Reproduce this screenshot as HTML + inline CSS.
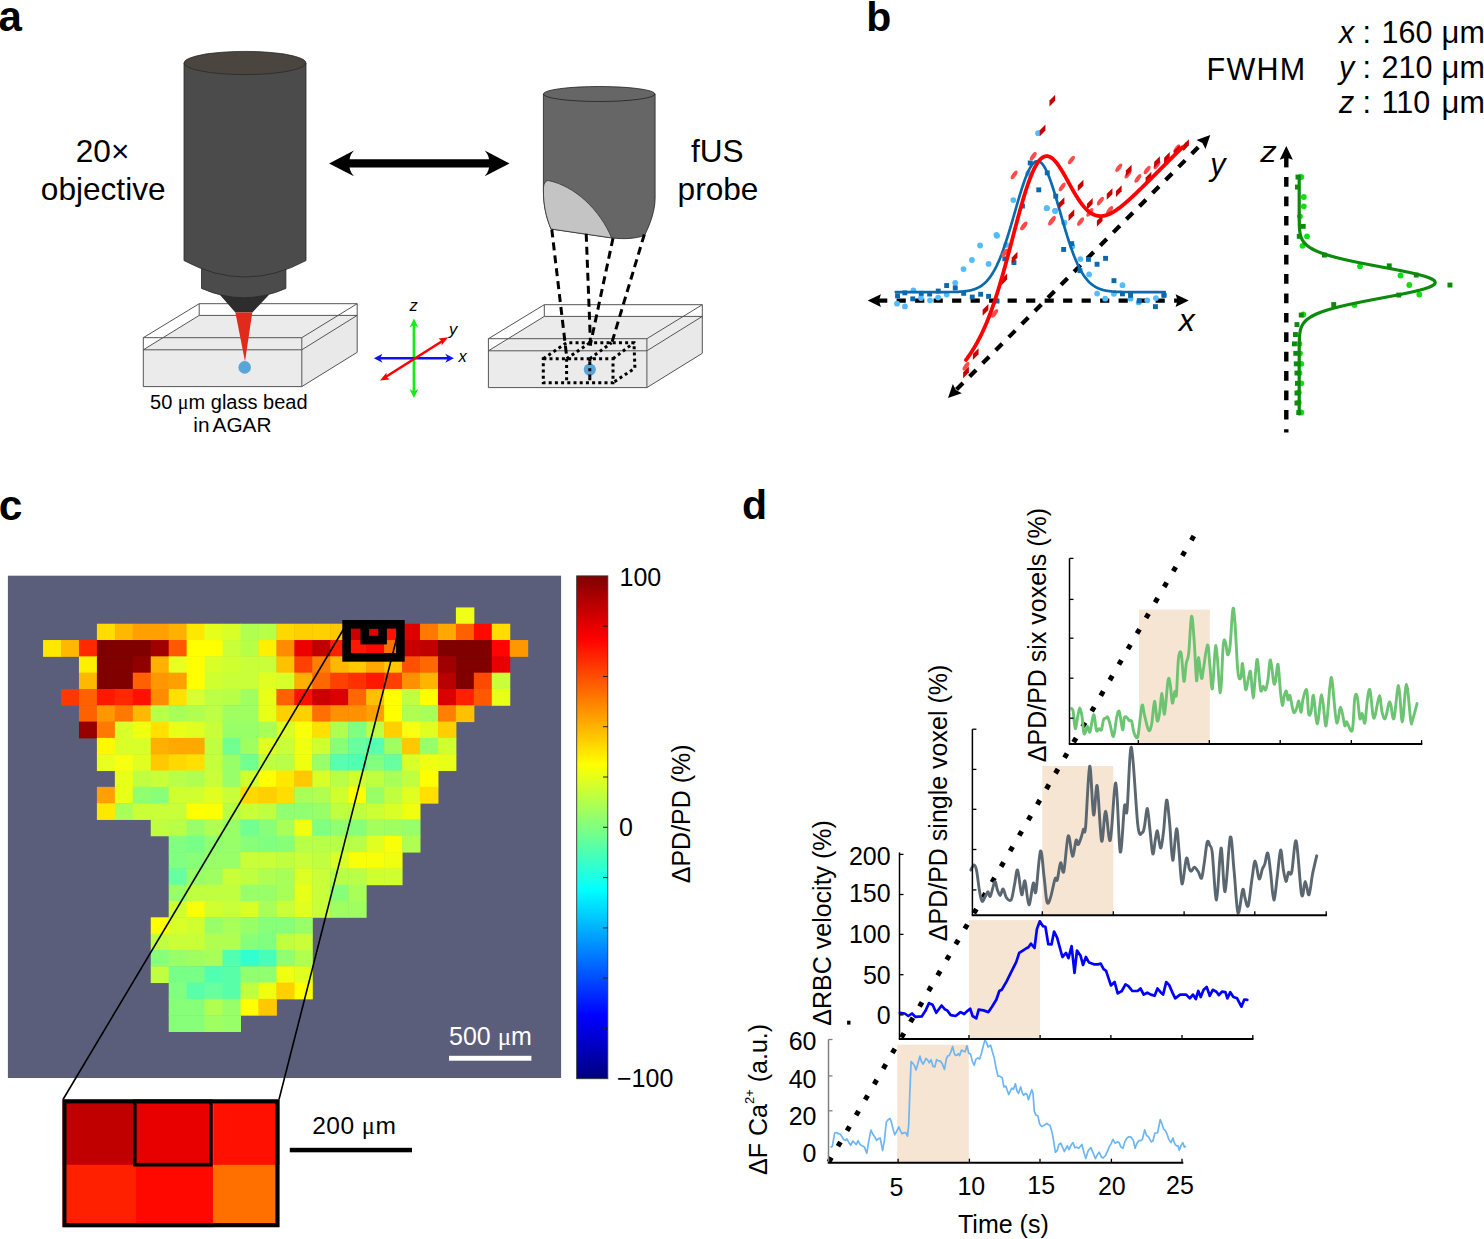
<!DOCTYPE html>
<html><head><meta charset="utf-8"><title>Figure</title>
<style>html,body{margin:0;padding:0;background:#fff;} svg{display:block;} text{font-family:"Liberation Sans", sans-serif;}</style>
</head><body>
<svg width="1484" height="1239" viewBox="0 0 1484 1239">
<rect width="1484" height="1239" fill="#fff"/>
<rect x="7.9" y="575.7" width="553.2" height="502.3" fill="#5b5e7b"/>
<rect x="455.90" y="607.42" width="18.45" height="16.81" fill="#f0ff18"/>
<rect x="96.90" y="623.73" width="18.45" height="16.81" fill="#ffdd00"/>
<rect x="114.85" y="623.73" width="18.45" height="16.81" fill="#ffb800"/>
<rect x="132.80" y="623.73" width="18.45" height="16.81" fill="#ffa000"/>
<rect x="150.75" y="623.73" width="18.45" height="16.81" fill="#ffa000"/>
<rect x="168.70" y="623.73" width="18.45" height="16.81" fill="#ffb000"/>
<rect x="186.65" y="623.73" width="18.45" height="16.81" fill="#ffe800"/>
<rect x="204.60" y="623.73" width="18.45" height="16.81" fill="#e4ff1c"/>
<rect x="222.55" y="623.73" width="18.45" height="16.81" fill="#d8ff28"/>
<rect x="240.50" y="623.73" width="18.45" height="16.81" fill="#b0ff50"/>
<rect x="258.45" y="623.73" width="18.45" height="16.81" fill="#b8ff48"/>
<rect x="276.40" y="623.73" width="18.45" height="16.81" fill="#ffd800"/>
<rect x="294.35" y="623.73" width="18.45" height="16.81" fill="#ffd000"/>
<rect x="312.30" y="623.73" width="18.45" height="16.81" fill="#ffd000"/>
<rect x="330.25" y="623.73" width="18.45" height="16.81" fill="#ffc800"/>
<rect x="348.20" y="623.73" width="18.45" height="16.81" fill="#c80000"/>
<rect x="366.15" y="623.73" width="18.45" height="16.81" fill="#e00000"/>
<rect x="384.10" y="623.73" width="18.45" height="16.81" fill="#ff1000"/>
<rect x="402.05" y="623.73" width="18.45" height="16.81" fill="#e00000"/>
<rect x="420.00" y="623.73" width="18.45" height="16.81" fill="#ff7800"/>
<rect x="437.95" y="623.73" width="18.45" height="16.81" fill="#ffa800"/>
<rect x="455.90" y="623.73" width="18.45" height="16.81" fill="#ff6000"/>
<rect x="473.85" y="623.73" width="18.45" height="16.81" fill="#ff0800"/>
<rect x="491.80" y="623.73" width="18.45" height="16.81" fill="#ffdd00"/>
<rect x="43.05" y="640.04" width="18.45" height="16.81" fill="#ffe800"/>
<rect x="61.00" y="640.04" width="18.45" height="16.81" fill="#ffb800"/>
<rect x="78.95" y="640.04" width="18.45" height="16.81" fill="#ff2800"/>
<rect x="96.90" y="640.04" width="18.45" height="16.81" fill="#800000"/>
<rect x="114.85" y="640.04" width="18.45" height="16.81" fill="#800000"/>
<rect x="132.80" y="640.04" width="18.45" height="16.81" fill="#800000"/>
<rect x="150.75" y="640.04" width="18.45" height="16.81" fill="#a00000"/>
<rect x="168.70" y="640.04" width="18.45" height="16.81" fill="#ff5800"/>
<rect x="186.65" y="640.04" width="18.45" height="16.81" fill="#ffff00"/>
<rect x="204.60" y="640.04" width="18.45" height="16.81" fill="#ffff00"/>
<rect x="222.55" y="640.04" width="18.45" height="16.81" fill="#c8ff38"/>
<rect x="240.50" y="640.04" width="18.45" height="16.81" fill="#b8ff48"/>
<rect x="258.45" y="640.04" width="18.45" height="16.81" fill="#fff000"/>
<rect x="276.40" y="640.04" width="18.45" height="16.81" fill="#ff8c00"/>
<rect x="294.35" y="640.04" width="18.45" height="16.81" fill="#ee0000"/>
<rect x="312.30" y="640.04" width="18.45" height="16.81" fill="#c00000"/>
<rect x="330.25" y="640.04" width="18.45" height="16.81" fill="#ff2000"/>
<rect x="348.20" y="640.04" width="18.45" height="16.81" fill="#ff1800"/>
<rect x="366.15" y="640.04" width="18.45" height="16.81" fill="#ff0800"/>
<rect x="384.10" y="640.04" width="18.45" height="16.81" fill="#ff7000"/>
<rect x="402.05" y="640.04" width="18.45" height="16.81" fill="#c80000"/>
<rect x="420.00" y="640.04" width="18.45" height="16.81" fill="#c00000"/>
<rect x="437.95" y="640.04" width="18.45" height="16.81" fill="#800000"/>
<rect x="455.90" y="640.04" width="18.45" height="16.81" fill="#800000"/>
<rect x="473.85" y="640.04" width="18.45" height="16.81" fill="#800000"/>
<rect x="491.80" y="640.04" width="18.45" height="16.81" fill="#ff0400"/>
<rect x="509.75" y="640.04" width="18.45" height="16.81" fill="#ff9800"/>
<rect x="78.95" y="656.35" width="18.45" height="16.81" fill="#fff000"/>
<rect x="96.90" y="656.35" width="18.45" height="16.81" fill="#800000"/>
<rect x="114.85" y="656.35" width="18.45" height="16.81" fill="#800000"/>
<rect x="132.80" y="656.35" width="18.45" height="16.81" fill="#900000"/>
<rect x="150.75" y="656.35" width="18.45" height="16.81" fill="#ffb000"/>
<rect x="168.70" y="656.35" width="18.45" height="16.81" fill="#e8ff20"/>
<rect x="186.65" y="656.35" width="18.45" height="16.81" fill="#ffff00"/>
<rect x="204.60" y="656.35" width="18.45" height="16.81" fill="#d8ff28"/>
<rect x="222.55" y="656.35" width="18.45" height="16.81" fill="#d0ff30"/>
<rect x="240.50" y="656.35" width="18.45" height="16.81" fill="#c8ff38"/>
<rect x="258.45" y="656.35" width="18.45" height="16.81" fill="#c8ff38"/>
<rect x="276.40" y="656.35" width="18.45" height="16.81" fill="#ffc000"/>
<rect x="294.35" y="656.35" width="18.45" height="16.81" fill="#ff4000"/>
<rect x="312.30" y="656.35" width="18.45" height="16.81" fill="#ff8000"/>
<rect x="330.25" y="656.35" width="18.45" height="16.81" fill="#ffb800"/>
<rect x="348.20" y="656.35" width="18.45" height="16.81" fill="#ffc800"/>
<rect x="366.15" y="656.35" width="18.45" height="16.81" fill="#ffa800"/>
<rect x="384.10" y="656.35" width="18.45" height="16.81" fill="#ffc800"/>
<rect x="402.05" y="656.35" width="18.45" height="16.81" fill="#ff5000"/>
<rect x="420.00" y="656.35" width="18.45" height="16.81" fill="#ff6800"/>
<rect x="437.95" y="656.35" width="18.45" height="16.81" fill="#a00000"/>
<rect x="455.90" y="656.35" width="18.45" height="16.81" fill="#800000"/>
<rect x="473.85" y="656.35" width="18.45" height="16.81" fill="#800000"/>
<rect x="491.80" y="656.35" width="18.45" height="16.81" fill="#e80000"/>
<rect x="78.95" y="672.66" width="18.45" height="16.81" fill="#ffb800"/>
<rect x="96.90" y="672.66" width="18.45" height="16.81" fill="#800000"/>
<rect x="114.85" y="672.66" width="18.45" height="16.81" fill="#800000"/>
<rect x="132.80" y="672.66" width="18.45" height="16.81" fill="#ff6000"/>
<rect x="150.75" y="672.66" width="18.45" height="16.81" fill="#ff9800"/>
<rect x="168.70" y="672.66" width="18.45" height="16.81" fill="#ffa000"/>
<rect x="186.65" y="672.66" width="18.45" height="16.81" fill="#ffff00"/>
<rect x="204.60" y="672.66" width="18.45" height="16.81" fill="#d0ff30"/>
<rect x="222.55" y="672.66" width="18.45" height="16.81" fill="#c8ff38"/>
<rect x="240.50" y="672.66" width="18.45" height="16.81" fill="#c8ff38"/>
<rect x="258.45" y="672.66" width="18.45" height="16.81" fill="#e0ff20"/>
<rect x="276.40" y="672.66" width="18.45" height="16.81" fill="#d8ff28"/>
<rect x="294.35" y="672.66" width="18.45" height="16.81" fill="#ffb000"/>
<rect x="312.30" y="672.66" width="18.45" height="16.81" fill="#ff6800"/>
<rect x="330.25" y="672.66" width="18.45" height="16.81" fill="#ff4000"/>
<rect x="348.20" y="672.66" width="18.45" height="16.81" fill="#ff3000"/>
<rect x="366.15" y="672.66" width="18.45" height="16.81" fill="#ff1800"/>
<rect x="384.10" y="672.66" width="18.45" height="16.81" fill="#ff4000"/>
<rect x="402.05" y="672.66" width="18.45" height="16.81" fill="#ff9000"/>
<rect x="420.00" y="672.66" width="18.45" height="16.81" fill="#ffb400"/>
<rect x="437.95" y="672.66" width="18.45" height="16.81" fill="#b80000"/>
<rect x="455.90" y="672.66" width="18.45" height="16.81" fill="#800000"/>
<rect x="473.85" y="672.66" width="18.45" height="16.81" fill="#ff4800"/>
<rect x="491.80" y="672.66" width="18.45" height="16.81" fill="#c8ff38"/>
<rect x="61.00" y="688.97" width="18.45" height="16.81" fill="#ff3800"/>
<rect x="78.95" y="688.97" width="18.45" height="16.81" fill="#ff6000"/>
<rect x="96.90" y="688.97" width="18.45" height="16.81" fill="#ff1800"/>
<rect x="114.85" y="688.97" width="18.45" height="16.81" fill="#ff2800"/>
<rect x="132.80" y="688.97" width="18.45" height="16.81" fill="#ff1000"/>
<rect x="150.75" y="688.97" width="18.45" height="16.81" fill="#ff8c00"/>
<rect x="168.70" y="688.97" width="18.45" height="16.81" fill="#ffe000"/>
<rect x="186.65" y="688.97" width="18.45" height="16.81" fill="#d8ff30"/>
<rect x="204.60" y="688.97" width="18.45" height="16.81" fill="#bcff44"/>
<rect x="222.55" y="688.97" width="18.45" height="16.81" fill="#b8ff48"/>
<rect x="240.50" y="688.97" width="18.45" height="16.81" fill="#a0ff60"/>
<rect x="258.45" y="688.97" width="18.45" height="16.81" fill="#e8ff18"/>
<rect x="276.40" y="688.97" width="18.45" height="16.81" fill="#ff6000"/>
<rect x="294.35" y="688.97" width="18.45" height="16.81" fill="#ff1000"/>
<rect x="312.30" y="688.97" width="18.45" height="16.81" fill="#cc0000"/>
<rect x="330.25" y="688.97" width="18.45" height="16.81" fill="#dd0000"/>
<rect x="348.20" y="688.97" width="18.45" height="16.81" fill="#ff6800"/>
<rect x="366.15" y="688.97" width="18.45" height="16.81" fill="#ffc000"/>
<rect x="384.10" y="688.97" width="18.45" height="16.81" fill="#ffff00"/>
<rect x="402.05" y="688.97" width="18.45" height="16.81" fill="#c0ff40"/>
<rect x="420.00" y="688.97" width="18.45" height="16.81" fill="#ffff00"/>
<rect x="437.95" y="688.97" width="18.45" height="16.81" fill="#d80000"/>
<rect x="455.90" y="688.97" width="18.45" height="16.81" fill="#ff2000"/>
<rect x="473.85" y="688.97" width="18.45" height="16.81" fill="#ff5800"/>
<rect x="491.80" y="688.97" width="18.45" height="16.81" fill="#e8ff18"/>
<rect x="78.95" y="705.28" width="18.45" height="16.81" fill="#ff6000"/>
<rect x="96.90" y="705.28" width="18.45" height="16.81" fill="#ff9800"/>
<rect x="114.85" y="705.28" width="18.45" height="16.81" fill="#ff7800"/>
<rect x="132.80" y="705.28" width="18.45" height="16.81" fill="#ffb800"/>
<rect x="150.75" y="705.28" width="18.45" height="16.81" fill="#b8ff48"/>
<rect x="168.70" y="705.28" width="18.45" height="16.81" fill="#a8ff58"/>
<rect x="186.65" y="705.28" width="18.45" height="16.81" fill="#b0ff50"/>
<rect x="204.60" y="705.28" width="18.45" height="16.81" fill="#bcff44"/>
<rect x="222.55" y="705.28" width="18.45" height="16.81" fill="#a0ff60"/>
<rect x="240.50" y="705.28" width="18.45" height="16.81" fill="#a0ff60"/>
<rect x="258.45" y="705.28" width="18.45" height="16.81" fill="#e8ff18"/>
<rect x="276.40" y="705.28" width="18.45" height="16.81" fill="#ffd000"/>
<rect x="294.35" y="705.28" width="18.45" height="16.81" fill="#ffd000"/>
<rect x="312.30" y="705.28" width="18.45" height="16.81" fill="#ff7000"/>
<rect x="330.25" y="705.28" width="18.45" height="16.81" fill="#ff9000"/>
<rect x="348.20" y="705.28" width="18.45" height="16.81" fill="#ff9000"/>
<rect x="366.15" y="705.28" width="18.45" height="16.81" fill="#ffa000"/>
<rect x="384.10" y="705.28" width="18.45" height="16.81" fill="#ffff00"/>
<rect x="402.05" y="705.28" width="18.45" height="16.81" fill="#b0ff50"/>
<rect x="420.00" y="705.28" width="18.45" height="16.81" fill="#a8ff58"/>
<rect x="437.95" y="705.28" width="18.45" height="16.81" fill="#ff8000"/>
<rect x="455.90" y="705.28" width="18.45" height="16.81" fill="#ffc000"/>
<rect x="78.95" y="721.59" width="18.45" height="16.81" fill="#980000"/>
<rect x="96.90" y="721.59" width="18.45" height="16.81" fill="#ff7800"/>
<rect x="114.85" y="721.59" width="18.45" height="16.81" fill="#d8ff28"/>
<rect x="132.80" y="721.59" width="18.45" height="16.81" fill="#f0ff10"/>
<rect x="150.75" y="721.59" width="18.45" height="16.81" fill="#ffe000"/>
<rect x="168.70" y="721.59" width="18.45" height="16.81" fill="#e8ff18"/>
<rect x="186.65" y="721.59" width="18.45" height="16.81" fill="#e0ff20"/>
<rect x="204.60" y="721.59" width="18.45" height="16.81" fill="#c8ff38"/>
<rect x="222.55" y="721.59" width="18.45" height="16.81" fill="#98ff68"/>
<rect x="240.50" y="721.59" width="18.45" height="16.81" fill="#98ff68"/>
<rect x="258.45" y="721.59" width="18.45" height="16.81" fill="#a8ff58"/>
<rect x="276.40" y="721.59" width="18.45" height="16.81" fill="#d8ff28"/>
<rect x="294.35" y="721.59" width="18.45" height="16.81" fill="#f8ff08"/>
<rect x="312.30" y="721.59" width="18.45" height="16.81" fill="#ffe000"/>
<rect x="330.25" y="721.59" width="18.45" height="16.81" fill="#b0ff50"/>
<rect x="348.20" y="721.59" width="18.45" height="16.81" fill="#80ff80"/>
<rect x="366.15" y="721.59" width="18.45" height="16.81" fill="#bcff44"/>
<rect x="384.10" y="721.59" width="18.45" height="16.81" fill="#ffd000"/>
<rect x="402.05" y="721.59" width="18.45" height="16.81" fill="#f8ff10"/>
<rect x="420.00" y="721.59" width="18.45" height="16.81" fill="#e0ff20"/>
<rect x="437.95" y="721.59" width="18.45" height="16.81" fill="#ffd000"/>
<rect x="96.90" y="737.90" width="18.45" height="16.81" fill="#fff800"/>
<rect x="114.85" y="737.90" width="18.45" height="16.81" fill="#d8ff28"/>
<rect x="132.80" y="737.90" width="18.45" height="16.81" fill="#d8ff28"/>
<rect x="150.75" y="737.90" width="18.45" height="16.81" fill="#ffb000"/>
<rect x="168.70" y="737.90" width="18.45" height="16.81" fill="#ffa800"/>
<rect x="186.65" y="737.90" width="18.45" height="16.81" fill="#ffa800"/>
<rect x="204.60" y="737.90" width="18.45" height="16.81" fill="#c0ff40"/>
<rect x="222.55" y="737.90" width="18.45" height="16.81" fill="#70ff90"/>
<rect x="240.50" y="737.90" width="18.45" height="16.81" fill="#a0ff60"/>
<rect x="258.45" y="737.90" width="18.45" height="16.81" fill="#e0ff20"/>
<rect x="276.40" y="737.90" width="18.45" height="16.81" fill="#c8ff38"/>
<rect x="294.35" y="737.90" width="18.45" height="16.81" fill="#f0ff10"/>
<rect x="312.30" y="737.90" width="18.45" height="16.81" fill="#d0ff30"/>
<rect x="330.25" y="737.90" width="18.45" height="16.81" fill="#88ff78"/>
<rect x="348.20" y="737.90" width="18.45" height="16.81" fill="#68ffa0"/>
<rect x="366.15" y="737.90" width="18.45" height="16.81" fill="#58ffb0"/>
<rect x="384.10" y="737.90" width="18.45" height="16.81" fill="#a0ff60"/>
<rect x="402.05" y="737.90" width="18.45" height="16.81" fill="#ffc800"/>
<rect x="420.00" y="737.90" width="18.45" height="16.81" fill="#98ff68"/>
<rect x="437.95" y="737.90" width="18.45" height="16.81" fill="#d0ff30"/>
<rect x="96.90" y="754.21" width="18.45" height="16.81" fill="#e8ff20"/>
<rect x="114.85" y="754.21" width="18.45" height="16.81" fill="#f8ff10"/>
<rect x="132.80" y="754.21" width="18.45" height="16.81" fill="#e0ff20"/>
<rect x="150.75" y="754.21" width="18.45" height="16.81" fill="#ffc800"/>
<rect x="168.70" y="754.21" width="18.45" height="16.81" fill="#ffd800"/>
<rect x="186.65" y="754.21" width="18.45" height="16.81" fill="#ffe000"/>
<rect x="204.60" y="754.21" width="18.45" height="16.81" fill="#c4ff3c"/>
<rect x="222.55" y="754.21" width="18.45" height="16.81" fill="#98ff68"/>
<rect x="240.50" y="754.21" width="18.45" height="16.81" fill="#70ff90"/>
<rect x="258.45" y="754.21" width="18.45" height="16.81" fill="#c0ff40"/>
<rect x="276.40" y="754.21" width="18.45" height="16.81" fill="#b8ff48"/>
<rect x="294.35" y="754.21" width="18.45" height="16.81" fill="#f0ff10"/>
<rect x="312.30" y="754.21" width="18.45" height="16.81" fill="#98ff68"/>
<rect x="330.25" y="754.21" width="18.45" height="16.81" fill="#58ffb0"/>
<rect x="348.20" y="754.21" width="18.45" height="16.81" fill="#50ffb0"/>
<rect x="366.15" y="754.21" width="18.45" height="16.81" fill="#80ff80"/>
<rect x="384.10" y="754.21" width="18.45" height="16.81" fill="#68ffa0"/>
<rect x="402.05" y="754.21" width="18.45" height="16.81" fill="#d8ff28"/>
<rect x="420.00" y="754.21" width="18.45" height="16.81" fill="#f0ff10"/>
<rect x="437.95" y="754.21" width="18.45" height="16.81" fill="#e8ff18"/>
<rect x="114.85" y="770.52" width="18.45" height="16.81" fill="#e8ff18"/>
<rect x="132.80" y="770.52" width="18.45" height="16.81" fill="#c0ff40"/>
<rect x="150.75" y="770.52" width="18.45" height="16.81" fill="#c8ff38"/>
<rect x="168.70" y="770.52" width="18.45" height="16.81" fill="#b8ff48"/>
<rect x="186.65" y="770.52" width="18.45" height="16.81" fill="#b0ff50"/>
<rect x="204.60" y="770.52" width="18.45" height="16.81" fill="#c8ff38"/>
<rect x="222.55" y="770.52" width="18.45" height="16.81" fill="#98ff68"/>
<rect x="240.50" y="770.52" width="18.45" height="16.81" fill="#d0ff30"/>
<rect x="258.45" y="770.52" width="18.45" height="16.81" fill="#ffff00"/>
<rect x="276.40" y="770.52" width="18.45" height="16.81" fill="#ffe800"/>
<rect x="294.35" y="770.52" width="18.45" height="16.81" fill="#ffc800"/>
<rect x="312.30" y="770.52" width="18.45" height="16.81" fill="#d8ff28"/>
<rect x="330.25" y="770.52" width="18.45" height="16.81" fill="#b8ff48"/>
<rect x="348.20" y="770.52" width="18.45" height="16.81" fill="#d0ff30"/>
<rect x="366.15" y="770.52" width="18.45" height="16.81" fill="#c0ff40"/>
<rect x="384.10" y="770.52" width="18.45" height="16.81" fill="#a8ff58"/>
<rect x="402.05" y="770.52" width="18.45" height="16.81" fill="#c0ff40"/>
<rect x="420.00" y="770.52" width="18.45" height="16.81" fill="#ffff00"/>
<rect x="96.90" y="786.83" width="18.45" height="16.81" fill="#ffa000"/>
<rect x="114.85" y="786.83" width="18.45" height="16.81" fill="#e8ff18"/>
<rect x="132.80" y="786.83" width="18.45" height="16.81" fill="#90ff70"/>
<rect x="150.75" y="786.83" width="18.45" height="16.81" fill="#88ff78"/>
<rect x="168.70" y="786.83" width="18.45" height="16.81" fill="#d0ff30"/>
<rect x="186.65" y="786.83" width="18.45" height="16.81" fill="#d0ff30"/>
<rect x="204.60" y="786.83" width="18.45" height="16.81" fill="#e0ff20"/>
<rect x="222.55" y="786.83" width="18.45" height="16.81" fill="#c8ff38"/>
<rect x="240.50" y="786.83" width="18.45" height="16.81" fill="#ffd800"/>
<rect x="258.45" y="786.83" width="18.45" height="16.81" fill="#ffd000"/>
<rect x="276.40" y="786.83" width="18.45" height="16.81" fill="#ffdd00"/>
<rect x="294.35" y="786.83" width="18.45" height="16.81" fill="#a8ff58"/>
<rect x="312.30" y="786.83" width="18.45" height="16.81" fill="#b0ff50"/>
<rect x="330.25" y="786.83" width="18.45" height="16.81" fill="#d0ff30"/>
<rect x="348.20" y="786.83" width="18.45" height="16.81" fill="#ffff00"/>
<rect x="366.15" y="786.83" width="18.45" height="16.81" fill="#98ff68"/>
<rect x="384.10" y="786.83" width="18.45" height="16.81" fill="#c0ff40"/>
<rect x="402.05" y="786.83" width="18.45" height="16.81" fill="#e0ff20"/>
<rect x="420.00" y="786.83" width="18.45" height="16.81" fill="#ffe000"/>
<rect x="96.90" y="803.14" width="18.45" height="16.81" fill="#ffe800"/>
<rect x="114.85" y="803.14" width="18.45" height="16.81" fill="#a8ff58"/>
<rect x="132.80" y="803.14" width="18.45" height="16.81" fill="#c8ff38"/>
<rect x="150.75" y="803.14" width="18.45" height="16.81" fill="#c8ff38"/>
<rect x="168.70" y="803.14" width="18.45" height="16.81" fill="#c8ff38"/>
<rect x="186.65" y="803.14" width="18.45" height="16.81" fill="#ffff00"/>
<rect x="204.60" y="803.14" width="18.45" height="16.81" fill="#fcff04"/>
<rect x="222.55" y="803.14" width="18.45" height="16.81" fill="#b8ff48"/>
<rect x="240.50" y="803.14" width="18.45" height="16.81" fill="#c8ff38"/>
<rect x="258.45" y="803.14" width="18.45" height="16.81" fill="#c0ff40"/>
<rect x="276.40" y="803.14" width="18.45" height="16.81" fill="#90ff70"/>
<rect x="294.35" y="803.14" width="18.45" height="16.81" fill="#90ff70"/>
<rect x="312.30" y="803.14" width="18.45" height="16.81" fill="#98ff68"/>
<rect x="330.25" y="803.14" width="18.45" height="16.81" fill="#c0ff40"/>
<rect x="348.20" y="803.14" width="18.45" height="16.81" fill="#c0ff40"/>
<rect x="366.15" y="803.14" width="18.45" height="16.81" fill="#ccff34"/>
<rect x="384.10" y="803.14" width="18.45" height="16.81" fill="#d8ff28"/>
<rect x="402.05" y="803.14" width="18.45" height="16.81" fill="#f0ff10"/>
<rect x="150.75" y="819.45" width="18.45" height="16.81" fill="#c0ff40"/>
<rect x="168.70" y="819.45" width="18.45" height="16.81" fill="#b8ff48"/>
<rect x="186.65" y="819.45" width="18.45" height="16.81" fill="#98ff68"/>
<rect x="204.60" y="819.45" width="18.45" height="16.81" fill="#b0ff50"/>
<rect x="222.55" y="819.45" width="18.45" height="16.81" fill="#98ff68"/>
<rect x="240.50" y="819.45" width="18.45" height="16.81" fill="#70ff90"/>
<rect x="258.45" y="819.45" width="18.45" height="16.81" fill="#88ff78"/>
<rect x="276.40" y="819.45" width="18.45" height="16.81" fill="#a8ff58"/>
<rect x="294.35" y="819.45" width="18.45" height="16.81" fill="#f0ff10"/>
<rect x="312.30" y="819.45" width="18.45" height="16.81" fill="#80ff80"/>
<rect x="330.25" y="819.45" width="18.45" height="16.81" fill="#90ff70"/>
<rect x="348.20" y="819.45" width="18.45" height="16.81" fill="#88ff78"/>
<rect x="366.15" y="819.45" width="18.45" height="16.81" fill="#a4ff5c"/>
<rect x="384.10" y="819.45" width="18.45" height="16.81" fill="#a0ff60"/>
<rect x="402.05" y="819.45" width="18.45" height="16.81" fill="#98ff68"/>
<rect x="168.70" y="835.76" width="18.45" height="16.81" fill="#80ff80"/>
<rect x="186.65" y="835.76" width="18.45" height="16.81" fill="#78ff88"/>
<rect x="204.60" y="835.76" width="18.45" height="16.81" fill="#90ff70"/>
<rect x="222.55" y="835.76" width="18.45" height="16.81" fill="#98ff68"/>
<rect x="240.50" y="835.76" width="18.45" height="16.81" fill="#88ff78"/>
<rect x="258.45" y="835.76" width="18.45" height="16.81" fill="#80ff80"/>
<rect x="276.40" y="835.76" width="18.45" height="16.81" fill="#88ff78"/>
<rect x="294.35" y="835.76" width="18.45" height="16.81" fill="#b8ff48"/>
<rect x="312.30" y="835.76" width="18.45" height="16.81" fill="#b8ff48"/>
<rect x="330.25" y="835.76" width="18.45" height="16.81" fill="#b8ff48"/>
<rect x="348.20" y="835.76" width="18.45" height="16.81" fill="#b8ff48"/>
<rect x="366.15" y="835.76" width="18.45" height="16.81" fill="#e0ff20"/>
<rect x="384.10" y="835.76" width="18.45" height="16.81" fill="#f8ff08"/>
<rect x="402.05" y="835.76" width="18.45" height="16.81" fill="#b0ff50"/>
<rect x="168.70" y="852.07" width="18.45" height="16.81" fill="#80ff80"/>
<rect x="186.65" y="852.07" width="18.45" height="16.81" fill="#88ff78"/>
<rect x="204.60" y="852.07" width="18.45" height="16.81" fill="#98ff68"/>
<rect x="222.55" y="852.07" width="18.45" height="16.81" fill="#98ff68"/>
<rect x="240.50" y="852.07" width="18.45" height="16.81" fill="#c8ff38"/>
<rect x="258.45" y="852.07" width="18.45" height="16.81" fill="#c8ff38"/>
<rect x="276.40" y="852.07" width="18.45" height="16.81" fill="#c0ff40"/>
<rect x="294.35" y="852.07" width="18.45" height="16.81" fill="#c8ff38"/>
<rect x="312.30" y="852.07" width="18.45" height="16.81" fill="#c0ff40"/>
<rect x="330.25" y="852.07" width="18.45" height="16.81" fill="#d8ff28"/>
<rect x="348.20" y="852.07" width="18.45" height="16.81" fill="#f8ff08"/>
<rect x="366.15" y="852.07" width="18.45" height="16.81" fill="#f8ff08"/>
<rect x="384.10" y="852.07" width="18.45" height="16.81" fill="#f0ff10"/>
<rect x="168.70" y="868.38" width="18.45" height="16.81" fill="#68ffa0"/>
<rect x="186.65" y="868.38" width="18.45" height="16.81" fill="#98ff68"/>
<rect x="204.60" y="868.38" width="18.45" height="16.81" fill="#a0ff60"/>
<rect x="222.55" y="868.38" width="18.45" height="16.81" fill="#c8ff38"/>
<rect x="240.50" y="868.38" width="18.45" height="16.81" fill="#c0ff40"/>
<rect x="258.45" y="868.38" width="18.45" height="16.81" fill="#b0ff50"/>
<rect x="276.40" y="868.38" width="18.45" height="16.81" fill="#a8ff58"/>
<rect x="294.35" y="868.38" width="18.45" height="16.81" fill="#dcff24"/>
<rect x="312.30" y="868.38" width="18.45" height="16.81" fill="#c8ff38"/>
<rect x="330.25" y="868.38" width="18.45" height="16.81" fill="#b8ff48"/>
<rect x="348.20" y="868.38" width="18.45" height="16.81" fill="#b8ff48"/>
<rect x="366.15" y="868.38" width="18.45" height="16.81" fill="#d0ff30"/>
<rect x="384.10" y="868.38" width="18.45" height="16.81" fill="#d0ff30"/>
<rect x="168.70" y="884.69" width="18.45" height="16.81" fill="#98ff68"/>
<rect x="186.65" y="884.69" width="18.45" height="16.81" fill="#c0ff40"/>
<rect x="204.60" y="884.69" width="18.45" height="16.81" fill="#c0ff40"/>
<rect x="222.55" y="884.69" width="18.45" height="16.81" fill="#c0ff40"/>
<rect x="240.50" y="884.69" width="18.45" height="16.81" fill="#98ff68"/>
<rect x="258.45" y="884.69" width="18.45" height="16.81" fill="#98ff68"/>
<rect x="276.40" y="884.69" width="18.45" height="16.81" fill="#a8ff58"/>
<rect x="294.35" y="884.69" width="18.45" height="16.81" fill="#e8ff18"/>
<rect x="312.30" y="884.69" width="18.45" height="16.81" fill="#c8ff38"/>
<rect x="330.25" y="884.69" width="18.45" height="16.81" fill="#88ff78"/>
<rect x="348.20" y="884.69" width="18.45" height="16.81" fill="#a8ff58"/>
<rect x="168.70" y="901.00" width="18.45" height="16.81" fill="#d0ff30"/>
<rect x="186.65" y="901.00" width="18.45" height="16.81" fill="#f8ff08"/>
<rect x="204.60" y="901.00" width="18.45" height="16.81" fill="#d0ff30"/>
<rect x="222.55" y="901.00" width="18.45" height="16.81" fill="#c8ff38"/>
<rect x="240.50" y="901.00" width="18.45" height="16.81" fill="#d8ff28"/>
<rect x="258.45" y="901.00" width="18.45" height="16.81" fill="#a8ff58"/>
<rect x="276.40" y="901.00" width="18.45" height="16.81" fill="#c8ff38"/>
<rect x="294.35" y="901.00" width="18.45" height="16.81" fill="#e0ff20"/>
<rect x="312.30" y="901.00" width="18.45" height="16.81" fill="#c8ff38"/>
<rect x="330.25" y="901.00" width="18.45" height="16.81" fill="#a0ff60"/>
<rect x="348.20" y="901.00" width="18.45" height="16.81" fill="#a0ff60"/>
<rect x="150.75" y="917.31" width="18.45" height="16.81" fill="#ffff00"/>
<rect x="168.70" y="917.31" width="18.45" height="16.81" fill="#d8ff28"/>
<rect x="186.65" y="917.31" width="18.45" height="16.81" fill="#d0ff30"/>
<rect x="204.60" y="917.31" width="18.45" height="16.81" fill="#98ff68"/>
<rect x="222.55" y="917.31" width="18.45" height="16.81" fill="#a8ff58"/>
<rect x="240.50" y="917.31" width="18.45" height="16.81" fill="#98ff68"/>
<rect x="258.45" y="917.31" width="18.45" height="16.81" fill="#88ff78"/>
<rect x="276.40" y="917.31" width="18.45" height="16.81" fill="#88ff78"/>
<rect x="294.35" y="917.31" width="18.45" height="16.81" fill="#98ff68"/>
<rect x="150.75" y="933.62" width="18.45" height="16.81" fill="#c0ff40"/>
<rect x="168.70" y="933.62" width="18.45" height="16.81" fill="#c8ff38"/>
<rect x="186.65" y="933.62" width="18.45" height="16.81" fill="#c8ff38"/>
<rect x="204.60" y="933.62" width="18.45" height="16.81" fill="#b0ff50"/>
<rect x="222.55" y="933.62" width="18.45" height="16.81" fill="#b0ff50"/>
<rect x="240.50" y="933.62" width="18.45" height="16.81" fill="#88ff78"/>
<rect x="258.45" y="933.62" width="18.45" height="16.81" fill="#80ff80"/>
<rect x="276.40" y="933.62" width="18.45" height="16.81" fill="#c0ff40"/>
<rect x="294.35" y="933.62" width="18.45" height="16.81" fill="#c8ff38"/>
<rect x="150.75" y="949.93" width="18.45" height="16.81" fill="#88ff78"/>
<rect x="168.70" y="949.93" width="18.45" height="16.81" fill="#98ff68"/>
<rect x="186.65" y="949.93" width="18.45" height="16.81" fill="#a0ff60"/>
<rect x="204.60" y="949.93" width="18.45" height="16.81" fill="#a8ff58"/>
<rect x="222.55" y="949.93" width="18.45" height="16.81" fill="#50ffb0"/>
<rect x="240.50" y="949.93" width="18.45" height="16.81" fill="#30ffd0"/>
<rect x="258.45" y="949.93" width="18.45" height="16.81" fill="#48ffb8"/>
<rect x="276.40" y="949.93" width="18.45" height="16.81" fill="#90ff70"/>
<rect x="294.35" y="949.93" width="18.45" height="16.81" fill="#b0ff50"/>
<rect x="150.75" y="966.24" width="18.45" height="16.81" fill="#c0ff40"/>
<rect x="168.70" y="966.24" width="18.45" height="16.81" fill="#78ff88"/>
<rect x="186.65" y="966.24" width="18.45" height="16.81" fill="#78ff88"/>
<rect x="204.60" y="966.24" width="18.45" height="16.81" fill="#50ffb0"/>
<rect x="222.55" y="966.24" width="18.45" height="16.81" fill="#58ffa8"/>
<rect x="240.50" y="966.24" width="18.45" height="16.81" fill="#90ff70"/>
<rect x="258.45" y="966.24" width="18.45" height="16.81" fill="#90ff70"/>
<rect x="276.40" y="966.24" width="18.45" height="16.81" fill="#f0ff10"/>
<rect x="294.35" y="966.24" width="18.45" height="16.81" fill="#e0ff20"/>
<rect x="168.70" y="982.55" width="18.45" height="16.81" fill="#80ff80"/>
<rect x="186.65" y="982.55" width="18.45" height="16.81" fill="#58ffa8"/>
<rect x="204.60" y="982.55" width="18.45" height="16.81" fill="#68ffa0"/>
<rect x="222.55" y="982.55" width="18.45" height="16.81" fill="#58ffa8"/>
<rect x="240.50" y="982.55" width="18.45" height="16.81" fill="#c0ff40"/>
<rect x="258.45" y="982.55" width="18.45" height="16.81" fill="#f0ff10"/>
<rect x="276.40" y="982.55" width="18.45" height="16.81" fill="#ffd000"/>
<rect x="294.35" y="982.55" width="18.45" height="16.81" fill="#ffff00"/>
<rect x="168.70" y="998.86" width="18.45" height="16.81" fill="#88ff78"/>
<rect x="186.65" y="998.86" width="18.45" height="16.81" fill="#88ff78"/>
<rect x="204.60" y="998.86" width="18.45" height="16.81" fill="#b0ff50"/>
<rect x="222.55" y="998.86" width="18.45" height="16.81" fill="#98ff68"/>
<rect x="240.50" y="998.86" width="18.45" height="16.81" fill="#ffff00"/>
<rect x="258.45" y="998.86" width="18.45" height="16.81" fill="#ffc800"/>
<rect x="168.70" y="1015.17" width="18.45" height="16.81" fill="#88ff78"/>
<rect x="186.65" y="1015.17" width="18.45" height="16.81" fill="#88ff78"/>
<rect x="204.60" y="1015.17" width="18.45" height="16.81" fill="#a0ff60"/>
<rect x="222.55" y="1015.17" width="18.45" height="16.81" fill="#98ff68"/>
<line x1="345.4" y1="626" x2="63" y2="1099.5" stroke="#000" stroke-width="1.6"/>
<line x1="399.8" y1="626" x2="279" y2="1099.5" stroke="#000" stroke-width="1.6"/>
<rect x="346.6" y="624.3" width="53.8" height="33.1" fill="none" stroke="#000" stroke-width="8.6"/>
<rect x="364.8" y="624.4" width="17.8" height="15.7" fill="none" stroke="#000" stroke-width="8.6"/>
<rect x="449" y="1055.8" width="82.4" height="4.9" fill="#fff"/>
<text x="449" y="1044.9" font-family="Liberation Sans, sans-serif" font-size="25" fill="#fff">500 <tspan font-family="Liberation Serif, serif">μ</tspan>m</text>
<defs><linearGradient id="cb" x1="0" y1="0" x2="0" y2="1"><stop offset="0.0000" stop-color="#800000"/><stop offset="0.0156" stop-color="#8f0000"/><stop offset="0.0312" stop-color="#9f0000"/><stop offset="0.0469" stop-color="#af0000"/><stop offset="0.0625" stop-color="#bf0000"/><stop offset="0.0781" stop-color="#cf0000"/><stop offset="0.0938" stop-color="#df0000"/><stop offset="0.1094" stop-color="#ef0000"/><stop offset="0.1250" stop-color="#ff0000"/><stop offset="0.1406" stop-color="#ff1000"/><stop offset="0.1562" stop-color="#ff2000"/><stop offset="0.1719" stop-color="#ff3000"/><stop offset="0.1875" stop-color="#ff4000"/><stop offset="0.2031" stop-color="#ff5000"/><stop offset="0.2188" stop-color="#ff6000"/><stop offset="0.2344" stop-color="#ff7000"/><stop offset="0.2500" stop-color="#ff8000"/><stop offset="0.2656" stop-color="#ff8f00"/><stop offset="0.2812" stop-color="#ff9f00"/><stop offset="0.2969" stop-color="#ffaf00"/><stop offset="0.3125" stop-color="#ffbf00"/><stop offset="0.3281" stop-color="#ffcf00"/><stop offset="0.3438" stop-color="#ffdf00"/><stop offset="0.3594" stop-color="#ffef00"/><stop offset="0.3750" stop-color="#ffff00"/><stop offset="0.3906" stop-color="#efff10"/><stop offset="0.4062" stop-color="#dfff20"/><stop offset="0.4219" stop-color="#cfff30"/><stop offset="0.4375" stop-color="#bfff40"/><stop offset="0.4531" stop-color="#afff50"/><stop offset="0.4688" stop-color="#9fff60"/><stop offset="0.4844" stop-color="#8fff70"/><stop offset="0.5000" stop-color="#80ff80"/><stop offset="0.5156" stop-color="#70ff8f"/><stop offset="0.5312" stop-color="#60ff9f"/><stop offset="0.5469" stop-color="#50ffaf"/><stop offset="0.5625" stop-color="#40ffbf"/><stop offset="0.5781" stop-color="#30ffcf"/><stop offset="0.5938" stop-color="#20ffdf"/><stop offset="0.6094" stop-color="#10ffef"/><stop offset="0.6250" stop-color="#00ffff"/><stop offset="0.6406" stop-color="#00efff"/><stop offset="0.6562" stop-color="#00dfff"/><stop offset="0.6719" stop-color="#00cfff"/><stop offset="0.6875" stop-color="#00bfff"/><stop offset="0.7031" stop-color="#00afff"/><stop offset="0.7188" stop-color="#009fff"/><stop offset="0.7344" stop-color="#008fff"/><stop offset="0.7500" stop-color="#0080ff"/><stop offset="0.7656" stop-color="#0070ff"/><stop offset="0.7812" stop-color="#0060ff"/><stop offset="0.7969" stop-color="#0050ff"/><stop offset="0.8125" stop-color="#0040ff"/><stop offset="0.8281" stop-color="#0030ff"/><stop offset="0.8438" stop-color="#0020ff"/><stop offset="0.8594" stop-color="#0010ff"/><stop offset="0.8750" stop-color="#0000ff"/><stop offset="0.8906" stop-color="#0000ef"/><stop offset="0.9062" stop-color="#0000df"/><stop offset="0.9219" stop-color="#0000cf"/><stop offset="0.9375" stop-color="#0000bf"/><stop offset="0.9531" stop-color="#0000af"/><stop offset="0.9688" stop-color="#00009f"/><stop offset="0.9844" stop-color="#00008f"/><stop offset="1.0000" stop-color="#000080"/></linearGradient></defs>
<rect x="576.7" y="575.9" width="31.1" height="502.8" fill="url(#cb)" stroke="#333" stroke-width="0.9"/>
<line x1="603" y1="626.2" x2="607.8" y2="626.2" stroke="#222" stroke-width="1"/>
<line x1="603" y1="676.5" x2="607.8" y2="676.5" stroke="#222" stroke-width="1"/>
<line x1="603" y1="726.7" x2="607.8" y2="726.7" stroke="#222" stroke-width="1"/>
<line x1="603" y1="777.0" x2="607.8" y2="777.0" stroke="#222" stroke-width="1"/>
<line x1="603" y1="827.3" x2="607.8" y2="827.3" stroke="#222" stroke-width="1"/>
<line x1="603" y1="877.6" x2="607.8" y2="877.6" stroke="#222" stroke-width="1"/>
<line x1="603" y1="927.9" x2="607.8" y2="927.9" stroke="#222" stroke-width="1"/>
<line x1="603" y1="978.1" x2="607.8" y2="978.1" stroke="#222" stroke-width="1"/>
<line x1="603" y1="1028.4" x2="607.8" y2="1028.4" stroke="#222" stroke-width="1"/>
<text x="619.5" y="585.9" font-family="Liberation Sans, sans-serif" font-size="25">100</text>
<text x="619" y="835.6" font-family="Liberation Sans, sans-serif" font-size="25">0</text>
<text x="617" y="1086.6" font-family="Liberation Sans, sans-serif" font-size="25">−100</text>
<text transform="translate(689.8,883.3) rotate(-90)" font-family="Liberation Sans, sans-serif" font-size="25">ΔPD/PD (%)</text>
<rect x="62.5" y="1099.4" width="73.8" height="65.7" fill="#c00000"/>
<rect x="136" y="1099.4" width="77.6" height="65.7" fill="#e80000"/>
<rect x="213.3" y="1099.4" width="66.4" height="65.7" fill="#ff1000"/>
<rect x="62.5" y="1164.8" width="73.8" height="62.6" fill="#ff2000"/>
<rect x="136" y="1164.8" width="77.6" height="62.6" fill="#ff0800"/>
<rect x="213.3" y="1164.8" width="66.4" height="62.6" fill="#ff7000"/>
<rect x="64.5" y="1101.4" width="212.9" height="123.7" fill="none" stroke="#000" stroke-width="4"/>
<rect x="134.8" y="1101.4" width="76" height="63.3" fill="none" stroke="#000" stroke-width="3.6"/>
<rect x="289.8" y="1147.8" width="122.2" height="4.5" fill="#000"/>
<text x="312.3" y="1133.6" font-family="Liberation Sans, sans-serif" font-size="24.5" letter-spacing="0.45">200 <tspan font-family="Liberation Serif, serif">μ</tspan>m</text>
<polygon points="143.3,349.8 301.8,349.8 357.2,315.4 199.2,315.4" fill="#ebebeb"/>
<polygon points="301.8,349.8 357.2,315.4 357.2,352.3 301.8,386.6" fill="#e9e9e9"/>
<polygon points="143.3,349.8 301.8,349.8 301.8,386.6 143.3,386.6" fill="#ebebeb"/>
<line x1="143.3" y1="337.7" x2="301.8" y2="337.7" stroke="#555" stroke-width="1"/>
<line x1="143.3" y1="337.7" x2="143.3" y2="386.6" stroke="#555" stroke-width="1"/>
<line x1="143.3" y1="386.6" x2="301.8" y2="386.6" stroke="#555" stroke-width="1"/>
<line x1="301.8" y1="337.7" x2="301.8" y2="386.6" stroke="#555" stroke-width="1"/>
<line x1="143.3" y1="349.8" x2="301.8" y2="349.8" stroke="#555" stroke-width="1"/>
<line x1="199.2" y1="315.4" x2="357.2" y2="315.4" stroke="#555" stroke-width="1"/>
<line x1="143.3" y1="349.8" x2="199.2" y2="315.4" stroke="#555" stroke-width="1"/>
<line x1="301.8" y1="349.8" x2="357.2" y2="315.4" stroke="#555" stroke-width="1"/>
<line x1="199.2" y1="303.7" x2="357.2" y2="303.7" stroke="#555" stroke-width="1"/>
<line x1="143.3" y1="337.7" x2="199.2" y2="303.7" stroke="#555" stroke-width="1"/>
<line x1="301.8" y1="337.7" x2="357.2" y2="303.7" stroke="#555" stroke-width="1"/>
<line x1="199.2" y1="303.7" x2="199.2" y2="315.4" stroke="#555" stroke-width="1"/>
<line x1="357.2" y1="303.7" x2="357.2" y2="352.3" stroke="#555" stroke-width="1"/>
<line x1="301.8" y1="386.6" x2="357.2" y2="352.3" stroke="#555" stroke-width="1"/>
<polygon points="219.6,294.5 269.3,294.5 252.3,312.6 235.4,312.6" fill="#2d2d2d"/>
<path d="M201.5,262 L201.5,288.4 Q243.7,307 285.9,288.4 L285.9,262 Z" fill="#4b4b4b" stroke="#2a2a2a" stroke-width="0.8"/>
<path d="M184,63 L184,260.6 Q245,293.4 306,260.6 L306,63 Z" fill="#4b4b4b" stroke="#2a2a2a" stroke-width="0.8"/>
<ellipse cx="245" cy="63" rx="61" ry="11.6" fill="#4a463f" stroke="#2a2a2a" stroke-width="0.8"/>
<polygon points="235.4,312.6 252.3,312.6 245,361.5" fill="#df2a1c"/>
<circle cx="244.7" cy="367.4" r="6.3" fill="#5aa5d5"/>
<line x1="346" y1="163.4" x2="492.5" y2="163.4" stroke="#000" stroke-width="8.2"/>
<path d="M329.1,163.4 L353.9,150.6 Q348.6,156.5 349.6,163.4 Q348.6,170.3 353.9,176.2 Z" fill="#000"/>
<path d="M509.5,163.4 L484.7,150.6 Q490,156.5 489,163.4 Q490,170.3 484.7,176.2 Z" fill="#000"/>
<text x="102.6" y="161.5" font-family="Liberation Sans, sans-serif" font-size="31.6" text-anchor="middle">20×</text>
<text x="103.2" y="199.5" font-family="Liberation Sans, sans-serif" font-size="31.6" text-anchor="middle">objective</text>
<text x="717.3" y="161.6" font-family="Liberation Sans, sans-serif" font-size="31.6" text-anchor="middle">fUS</text>
<text x="718" y="200" font-family="Liberation Sans, sans-serif" font-size="31.6" text-anchor="middle">probe</text>
<text x="228.8" y="408.9" font-family="Liberation Sans, sans-serif" font-size="20" text-anchor="middle">50 <tspan font-family="Liberation Serif, serif">μ</tspan>m glass bead</text>
<text x="232.4" y="431.6" font-family="Liberation Sans, sans-serif" font-size="20.8" word-spacing="-1.6" text-anchor="middle">in AGAR</text>
<line x1="413.9" y1="323" x2="413.9" y2="394" stroke="#11ee11" stroke-width="2.6"/>
<path d="M413.9,318.6 L409.5,327.5 L413.9,325 L418.3,327.5 Z" fill="#11ee11"/>
<path d="M413.9,398 L409.5,389 L413.9,391.5 L418.3,389 Z" fill="#11ee11"/>
<line x1="378" y1="358.3" x2="450" y2="358.3" stroke="#1010ff" stroke-width="2.6"/>
<path d="M373.9,358.3 L382.5,353.8 L380,358.3 L382.5,362.8 Z" fill="#1010ff"/>
<path d="M453.9,358.3 L445.3,353.8 L447.8,358.3 L445.3,362.8 Z" fill="#1010ff"/>
<line x1="384" y1="378" x2="444" y2="340" stroke="#ff0000" stroke-width="2.6"/>
<path d="M448.1,337.3 L438.5,338.5 L441.8,341.2 L441.5,345.5 Z" fill="#ff0000"/>
<path d="M380,380.6 L389.6,379.4 L386.3,376.7 L386.6,372.4 Z" fill="#ff0000"/>
<text x="409.5" y="310.8" font-family="Liberation Sans, sans-serif" font-size="16.5" font-style="italic">z</text>
<text x="449" y="335" font-family="Liberation Sans, sans-serif" font-size="16.5" font-style="italic">y</text>
<text x="458.5" y="361.7" font-family="Liberation Sans, sans-serif" font-size="16.5" font-style="italic">x</text>
<polygon points="488.4,350.8 646.9,350.8 702.3,316.4 544.3,316.4" fill="#ebebeb"/>
<polygon points="646.9,350.8 702.3,316.4 702.3,353.3 646.9,387.6" fill="#e9e9e9"/>
<polygon points="488.4,350.8 646.9,350.8 646.9,387.6 488.4,387.6" fill="#ebebeb"/>
<line x1="488.4" y1="338.7" x2="646.9" y2="338.7" stroke="#555" stroke-width="1"/>
<line x1="488.4" y1="338.7" x2="488.4" y2="387.6" stroke="#555" stroke-width="1"/>
<line x1="488.4" y1="387.6" x2="646.9" y2="387.6" stroke="#555" stroke-width="1"/>
<line x1="646.9" y1="338.7" x2="646.9" y2="387.6" stroke="#555" stroke-width="1"/>
<line x1="488.4" y1="350.8" x2="646.9" y2="350.8" stroke="#555" stroke-width="1"/>
<line x1="544.3" y1="316.4" x2="702.3" y2="316.4" stroke="#555" stroke-width="1"/>
<line x1="488.4" y1="350.8" x2="544.3" y2="316.4" stroke="#555" stroke-width="1"/>
<line x1="646.9" y1="350.8" x2="702.3" y2="316.4" stroke="#555" stroke-width="1"/>
<line x1="544.3" y1="304.7" x2="702.3" y2="304.7" stroke="#555" stroke-width="1"/>
<line x1="488.4" y1="338.7" x2="544.3" y2="304.7" stroke="#555" stroke-width="1"/>
<line x1="646.9" y1="338.7" x2="702.3" y2="304.7" stroke="#555" stroke-width="1"/>
<line x1="544.3" y1="304.7" x2="544.3" y2="316.4" stroke="#555" stroke-width="1"/>
<line x1="702.3" y1="304.7" x2="702.3" y2="353.3" stroke="#555" stroke-width="1"/>
<line x1="646.9" y1="387.6" x2="702.3" y2="353.3" stroke="#555" stroke-width="1"/>
<path d="M543.4,94 L543.4,190 C543.4,205 546,217 551,229 L611.6,237.9 C625,239.5 636,238.5 644.6,235.5 C651,222 655.1,210 655.1,198 L655.1,94 Z" fill="#666666" stroke="#222" stroke-width="0.8"/>
<path d="M543.4,190 C543.4,184 545,180.6 548.5,180.6 C575,186 600,210 611.6,237.9 L551,229 C546,217 543.4,205 543.4,190 Z" fill="#c3c4c3" stroke="#222" stroke-width="0.7"/>
<ellipse cx="599.2" cy="94" rx="55.8" ry="7.5" fill="#666666" stroke="#222" stroke-width="0.8"/>
<line x1="551.8" y1="229.5" x2="566.6" y2="356" stroke="#000" stroke-width="3" stroke-dasharray="8,5" fill="none"/>
<line x1="586.2" y1="233.8" x2="590.6" y2="346.4" stroke="#000" stroke-width="3" stroke-dasharray="8,5" fill="none"/>
<line x1="613" y1="238.2" x2="590.6" y2="343.5" stroke="#000" stroke-width="3" stroke-dasharray="8,5" fill="none"/>
<line x1="644.3" y1="234.5" x2="611.6" y2="343.5" stroke="#000" stroke-width="3" stroke-dasharray="8,5" fill="none"/>
<path d="M543.3,358.7 L613,358.7 L613,382.7 L543.3,382.7 Z" stroke="#000" stroke-width="3" stroke-dasharray="3,3.2" fill="none"/>
<path d="M566.6,358.7 L566.6,382.7 M589.8,358.7 L589.8,382.7" stroke="#000" stroke-width="3" stroke-dasharray="3,3.2" fill="none"/>
<path d="M543.3,358.7 L566.6,342.7 L634,342.7 L634.9,368.1 L613,382.7 M613,358.7 L634,342.7 M566.6,358.7 L589.8,342.7 M589.8,358.7 L611.6,342.7" stroke="#000" stroke-width="3" stroke-dasharray="3,3.2" fill="none"/>
<circle cx="589.8" cy="369.6" r="6.1" fill="#5aa5d5"/>
<line x1="589.8" y1="362" x2="589.8" y2="378" stroke="#000" stroke-width="3" stroke-dasharray="3,3.2"/>
<line x1="878.1" y1="300.6" x2="1178.5" y2="300.6" stroke="#000" stroke-width="4.2" fill="none" stroke-dasharray="9.2,9.3" />
<path d="M867.7,300.6 L880.9,294.2 L878.9,300.6 L880.9,307.0 Z" fill="#000"/>
<path d="M1188.8,300.6 L1175.6,307.0 L1177.6,300.6 L1175.6,294.2 Z" fill="#000"/>
<line x1="956.5" y1="389.5" x2="1202" y2="143.5" stroke="#000" stroke-width="4.2" fill="none" stroke-dasharray="9.2,9.3" />
<path d="M948.0,398.0 L952.8,384.1 L955.9,390.1 L961.8,393.2 Z" fill="#000"/>
<path d="M1210.3,135.1 L1205.5,149.0 L1202.4,143.0 L1196.5,139.9 Z" fill="#000"/>
<line x1="1286.3" y1="177.1" x2="1286.3" y2="432.5" stroke="#000" stroke-width="4.4" stroke-dasharray="9.7,9.7"/>
<line x1="1286.3" y1="157" x2="1286.3" y2="167.4" stroke="#000" stroke-width="4.4"/>
<path d="M1286.3,146.0 L1292.9,159.8 L1286.3,157.4 L1279.7,159.8 Z" fill="#000"/>
<text x="1178.8" y="330.5" font-family="Liberation Sans, sans-serif" font-size="32" font-style="italic">x</text>
<text x="1210.2" y="174.8" font-family="Liberation Sans, sans-serif" font-size="30.5" font-style="italic">y</text>
<text x="1260.2" y="162" font-family="Liberation Sans, sans-serif" font-size="30" font-style="italic" transform="translate(1260.2,0) scale(1.1,1) translate(-1260.2,0)">z</text>
<text x="1206.5" y="79.7" font-family="Liberation Sans, sans-serif" font-size="30.5" letter-spacing="1.3">FWHM</text>
<text x="1339" y="42.7" font-family="Liberation Sans, sans-serif" font-size="30.5" font-style="italic">x</text>
<text x="1362.5" y="42.7" font-family="Liberation Sans, sans-serif" font-size="30.5">:</text>
<text x="1381.5" y="42.7" font-family="Liberation Sans, sans-serif" font-size="30.5">160</text>
<text x="1441.5" y="42.7" font-family="Liberation Serif, serif" font-size="31">μ<tspan font-family="Liberation Sans, sans-serif" font-size="30.5">m</tspan></text>
<text x="1339" y="78.3" font-family="Liberation Sans, sans-serif" font-size="30.5" font-style="italic">y</text>
<text x="1362.5" y="78.3" font-family="Liberation Sans, sans-serif" font-size="30.5">:</text>
<text x="1381.5" y="78.3" font-family="Liberation Sans, sans-serif" font-size="30.5">210</text>
<text x="1441.5" y="78.3" font-family="Liberation Serif, serif" font-size="31">μ<tspan font-family="Liberation Sans, sans-serif" font-size="30.5">m</tspan></text>
<text x="1339" y="113.4" font-family="Liberation Sans, sans-serif" font-size="30.5" font-style="italic">z</text>
<text x="1362.5" y="113.4" font-family="Liberation Sans, sans-serif" font-size="30.5">:</text>
<text x="1381.5" y="113.4" font-family="Liberation Sans, sans-serif" font-size="30.5">110</text>
<text x="1441.5" y="113.4" font-family="Liberation Serif, serif" font-size="31">μ<tspan font-family="Liberation Sans, sans-serif" font-size="30.5">m</tspan></text>
<circle cx="997.1" cy="235.8" r="2.9" fill="#55bbff"/>
<circle cx="980.1" cy="245.5" r="2.9" fill="#55bbff"/>
<circle cx="971.9" cy="260.0" r="2.9" fill="#55bbff"/>
<circle cx="988.6" cy="263.9" r="2.9" fill="#55bbff"/>
<circle cx="963.5" cy="269.1" r="2.9" fill="#55bbff"/>
<circle cx="955.2" cy="282.8" r="2.9" fill="#55bbff"/>
<circle cx="946.7" cy="294.6" r="2.9" fill="#55bbff"/>
<circle cx="938.2" cy="297.6" r="2.9" fill="#55bbff"/>
<circle cx="930.0" cy="300.3" r="2.9" fill="#55bbff"/>
<circle cx="913.4" cy="290.4" r="2.9" fill="#55bbff"/>
<circle cx="904.9" cy="306.4" r="2.9" fill="#55bbff"/>
<circle cx="897.0" cy="303.7" r="2.9" fill="#55bbff"/>
<circle cx="1006.2" cy="244.9" r="2.9" fill="#55bbff"/>
<circle cx="1038.1" cy="133.2" r="2.9" fill="#55bbff"/>
<circle cx="1013.3" cy="200.1" r="2.9" fill="#55bbff"/>
<circle cx="1028.2" cy="173.5" r="2.9" fill="#55bbff"/>
<circle cx="1046.6" cy="208.2" r="2.9" fill="#55bbff"/>
<circle cx="1055.1" cy="211.0" r="2.9" fill="#55bbff"/>
<circle cx="1064.3" cy="223.0" r="2.9" fill="#55bbff"/>
<circle cx="996.4" cy="235.0" r="2.9" fill="#55bbff"/>
<circle cx="1047.0" cy="208.1" r="2.9" fill="#55bbff"/>
<circle cx="1055.1" cy="210.8" r="2.9" fill="#55bbff"/>
<circle cx="1064.3" cy="222.6" r="2.9" fill="#55bbff"/>
<circle cx="1072.3" cy="246.4" r="2.9" fill="#55bbff"/>
<circle cx="1080.4" cy="259.1" r="2.9" fill="#55bbff"/>
<circle cx="1089.1" cy="274.4" r="2.9" fill="#55bbff"/>
<circle cx="1097.1" cy="293.6" r="2.9" fill="#55bbff"/>
<circle cx="1105.2" cy="298.7" r="2.9" fill="#55bbff"/>
<circle cx="1113.9" cy="293.8" r="2.9" fill="#55bbff"/>
<circle cx="1122.5" cy="285.2" r="2.9" fill="#55bbff"/>
<circle cx="1130.6" cy="298.7" r="2.9" fill="#55bbff"/>
<circle cx="1138.7" cy="302.4" r="2.9" fill="#55bbff"/>
<circle cx="1147.3" cy="300.3" r="2.9" fill="#55bbff"/>
<circle cx="1155.9" cy="298.1" r="2.9" fill="#55bbff"/>
<circle cx="1164.0" cy="294.9" r="2.9" fill="#55bbff"/>
<circle cx="921.0" cy="298.0" r="2.9" fill="#55bbff"/>
<rect x="944.2" y="283.1" width="4.9" height="4.9" fill="#0a6aad"/>
<rect x="952.8" y="285.4" width="4.9" height="4.9" fill="#0a6aad"/>
<rect x="935.8" y="288.6" width="4.9" height="4.9" fill="#0a6aad"/>
<rect x="927.2" y="291.6" width="4.9" height="4.9" fill="#0a6aad"/>
<rect x="910.3" y="296.4" width="4.9" height="4.9" fill="#0a6aad"/>
<rect x="902.4" y="290.4" width="4.9" height="4.9" fill="#0a6aad"/>
<rect x="895.1" y="293.4" width="4.9" height="4.9" fill="#0a6aad"/>
<rect x="918.8" y="290.9" width="4.9" height="4.9" fill="#0a6aad"/>
<rect x="961.2" y="290.9" width="4.9" height="4.9" fill="#0a6aad"/>
<rect x="969.8" y="294.6" width="4.9" height="4.9" fill="#0a6aad"/>
<rect x="978.2" y="291.8" width="4.9" height="4.9" fill="#0a6aad"/>
<rect x="986.1" y="293.9" width="4.9" height="4.9" fill="#0a6aad"/>
<rect x="994.6" y="298.6" width="4.9" height="4.9" fill="#0a6aad"/>
<rect x="1011.5" y="260.1" width="4.9" height="4.9" fill="#0a6aad"/>
<rect x="1002.4" y="256.4" width="4.9" height="4.9" fill="#0a6aad"/>
<rect x="1027.8" y="160.5" width="4.9" height="4.9" fill="#0a6aad"/>
<rect x="1044.8" y="170.4" width="4.9" height="4.9" fill="#0a6aad"/>
<rect x="1036.3" y="187.4" width="4.9" height="4.9" fill="#0a6aad"/>
<rect x="1053.3" y="193.7" width="4.9" height="4.9" fill="#0a6aad"/>
<rect x="1020.0" y="203.6" width="4.9" height="4.9" fill="#0a6aad"/>
<rect x="1061.2" y="247.0" width="4.9" height="4.9" fill="#0a6aad"/>
<rect x="1069.3" y="241.2" width="4.9" height="4.9" fill="#0a6aad"/>
<rect x="1086.0" y="256.9" width="4.9" height="4.9" fill="#0a6aad"/>
<rect x="1094.6" y="261.8" width="4.9" height="4.9" fill="#0a6aad"/>
<rect x="1103.1" y="255.9" width="4.9" height="4.9" fill="#0a6aad"/>
<rect x="1077.5" y="268.2" width="4.9" height="4.9" fill="#0a6aad"/>
<rect x="1111.5" y="278.2" width="4.9" height="4.9" fill="#0a6aad"/>
<rect x="1120.0" y="291.4" width="4.9" height="4.9" fill="#0a6aad"/>
<rect x="1128.1" y="292.9" width="4.9" height="4.9" fill="#0a6aad"/>
<rect x="1136.8" y="298.4" width="4.9" height="4.9" fill="#0a6aad"/>
<rect x="1153.0" y="304.2" width="4.9" height="4.9" fill="#0a6aad"/>
<rect x="1161.5" y="292.9" width="4.9" height="4.9" fill="#0a6aad"/>
<path d="M895.8,292.1 L896.3,292.1 L896.8,292.1 L897.3,292.1 L897.8,292.1 L898.3,292.1 L898.8,292.1 L899.3,292.1 L899.8,292.1 L900.3,292.1 L900.8,292.1 L901.3,292.1 L901.8,292.1 L902.3,292.1 L902.8,292.1 L903.3,292.1 L903.8,292.1 L904.3,292.1 L904.8,292.1 L905.3,292.1 L905.8,292.1 L906.3,292.1 L906.8,292.1 L907.3,292.1 L907.8,292.1 L908.3,292.1 L908.8,292.1 L909.3,292.1 L909.8,292.1 L910.3,292.1 L910.8,292.1 L911.3,292.1 L911.8,292.1 L912.3,292.1 L912.8,292.1 L913.3,292.1 L913.8,292.1 L914.3,292.1 L914.8,292.1 L915.3,292.1 L915.8,292.1 L916.3,292.1 L916.8,292.1 L917.3,292.1 L917.8,292.1 L918.3,292.1 L918.8,292.1 L919.3,292.1 L919.8,292.1 L920.3,292.1 L920.8,292.1 L921.3,292.1 L921.8,292.1 L922.3,292.1 L922.8,292.1 L923.3,292.1 L923.8,292.1 L924.3,292.1 L924.8,292.1 L925.3,292.1 L925.8,292.1 L926.3,292.1 L926.8,292.1 L927.3,292.1 L927.8,292.1 L928.3,292.1 L928.8,292.1 L929.3,292.1 L929.8,292.1 L930.3,292.1 L930.8,292.1 L931.3,292.1 L931.8,292.1 L932.3,292.1 L932.8,292.1 L933.3,292.1 L933.8,292.1 L934.3,292.1 L934.8,292.1 L935.3,292.1 L935.8,292.1 L936.3,292.1 L936.8,292.1 L937.3,292.1 L937.8,292.1 L938.3,292.1 L938.8,292.1 L939.3,292.1 L939.8,292.1 L940.3,292.1 L940.8,292.1 L941.3,292.1 L941.8,292.1 L942.3,292.1 L942.8,292.1 L943.3,292.1 L943.8,292.1 L944.3,292.1 L944.8,292.1 L945.3,292.1 L945.8,292.1 L946.3,292.1 L946.8,292.1 L947.3,292.0 L947.8,292.0 L948.3,292.0 L948.8,292.0 L949.3,292.0 L949.8,292.0 L950.3,292.0 L950.8,292.0 L951.3,292.0 L951.8,292.0 L952.3,292.0 L952.8,292.0 L953.3,292.0 L953.8,291.9 L954.3,291.9 L954.8,291.9 L955.3,291.9 L955.8,291.9 L956.3,291.9 L956.8,291.9 L957.3,291.8 L957.8,291.8 L958.3,291.8 L958.8,291.8 L959.3,291.7 L959.8,291.7 L960.3,291.7 L960.8,291.6 L961.3,291.6 L961.8,291.6 L962.3,291.5 L962.8,291.5 L963.3,291.4 L963.8,291.4 L964.3,291.3 L964.8,291.3 L965.3,291.2 L965.8,291.2 L966.3,291.1 L966.8,291.0 L967.3,291.0 L967.8,290.9 L968.3,290.8 L968.8,290.7 L969.3,290.6 L969.8,290.5 L970.3,290.4 L970.8,290.3 L971.3,290.2 L971.8,290.0 L972.3,289.9 L972.8,289.8 L973.3,289.6 L973.8,289.5 L974.3,289.3 L974.8,289.1 L975.3,288.9 L975.8,288.7 L976.3,288.5 L976.8,288.3 L977.3,288.1 L977.8,287.8 L978.3,287.6 L978.8,287.3 L979.3,287.1 L979.8,286.8 L980.3,286.5 L980.8,286.2 L981.3,285.8 L981.8,285.5 L982.3,285.1 L982.8,284.7 L983.3,284.3 L983.8,283.9 L984.3,283.5 L984.8,283.0 L985.3,282.6 L985.8,282.1 L986.3,281.6 L986.8,281.0 L987.3,280.5 L987.8,279.9 L988.3,279.3 L988.8,278.7 L989.3,278.1 L989.8,277.4 L990.3,276.7 L990.8,276.0 L991.3,275.3 L991.8,274.5 L992.3,273.7 L992.8,272.9 L993.3,272.1 L993.8,271.2 L994.3,270.3 L994.8,269.4 L995.3,268.5 L995.8,267.5 L996.3,266.5 L996.8,265.5 L997.3,264.4 L997.8,263.3 L998.3,262.2 L998.8,261.1 L999.3,259.9 L999.8,258.7 L1000.3,257.5 L1000.8,256.2 L1001.3,255.0 L1001.8,253.7 L1002.3,252.3 L1002.8,251.0 L1003.3,249.6 L1003.8,248.2 L1004.3,246.7 L1004.8,245.3 L1005.3,243.8 L1005.8,242.3 L1006.3,240.7 L1006.8,239.2 L1007.3,237.6 L1007.8,236.0 L1008.3,234.4 L1008.8,232.8 L1009.3,231.1 L1009.8,229.5 L1010.3,227.8 L1010.8,226.1 L1011.3,224.4 L1011.8,222.7 L1012.3,221.0 L1012.8,219.3 L1013.3,217.5 L1013.8,215.8 L1014.3,214.0 L1014.8,212.3 L1015.3,210.6 L1015.8,208.8 L1016.3,207.1 L1016.8,205.3 L1017.3,203.6 L1017.8,201.9 L1018.3,200.2 L1018.8,198.5 L1019.3,196.8 L1019.8,195.2 L1020.3,193.5 L1020.8,191.9 L1021.3,190.3 L1021.8,188.8 L1022.3,187.2 L1022.8,185.7 L1023.3,184.2 L1023.8,182.7 L1024.3,181.3 L1024.8,179.9 L1025.3,178.6 L1025.8,177.3 L1026.3,176.0 L1026.8,174.8 L1027.3,173.6 L1027.8,172.4 L1028.3,171.3 L1028.8,170.3 L1029.3,169.3 L1029.8,168.4 L1030.3,167.5 L1030.8,166.6 L1031.3,165.9 L1031.8,165.1 L1032.3,164.5 L1032.8,163.9 L1033.3,163.3 L1033.8,162.8 L1034.3,162.4 L1034.8,162.0 L1035.3,161.7 L1035.8,161.5 L1036.3,161.3 L1036.8,161.2 L1037.3,161.1 L1037.8,161.1 L1038.3,161.2 L1038.8,161.3 L1039.3,161.5 L1039.8,161.8 L1040.3,162.1 L1040.8,162.5 L1041.3,162.9 L1041.8,163.4 L1042.3,164.0 L1042.8,164.6 L1043.3,165.3 L1043.8,166.0 L1044.3,166.8 L1044.8,167.6 L1045.3,168.5 L1045.8,169.5 L1046.3,170.5 L1046.8,171.6 L1047.3,172.7 L1047.8,173.8 L1048.3,175.0 L1048.8,176.2 L1049.3,177.5 L1049.8,178.8 L1050.3,180.2 L1050.8,181.6 L1051.3,183.0 L1051.8,184.5 L1052.3,186.0 L1052.8,187.5 L1053.3,189.1 L1053.8,190.6 L1054.3,192.2 L1054.8,193.9 L1055.3,195.5 L1055.8,197.2 L1056.3,198.9 L1056.8,200.5 L1057.3,202.3 L1057.8,204.0 L1058.3,205.7 L1058.8,207.4 L1059.3,209.2 L1059.8,210.9 L1060.3,212.6 L1060.8,214.4 L1061.3,216.1 L1061.8,217.9 L1062.3,219.6 L1062.8,221.3 L1063.3,223.0 L1063.8,224.7 L1064.3,226.4 L1064.8,228.1 L1065.3,229.8 L1065.8,231.5 L1066.3,233.1 L1066.8,234.7 L1067.3,236.3 L1067.8,237.9 L1068.3,239.5 L1068.8,241.0 L1069.3,242.6 L1069.8,244.1 L1070.3,245.6 L1070.8,247.0 L1071.3,248.4 L1071.8,249.8 L1072.3,251.2 L1072.8,252.6 L1073.3,253.9 L1073.8,255.2 L1074.3,256.5 L1074.8,257.7 L1075.3,259.0 L1075.8,260.1 L1076.3,261.3 L1076.8,262.4 L1077.3,263.6 L1077.8,264.6 L1078.3,265.7 L1078.8,266.7 L1079.3,267.7 L1079.8,268.7 L1080.3,269.6 L1080.8,270.5 L1081.3,271.4 L1081.8,272.3 L1082.3,273.1 L1082.8,273.9 L1083.3,274.7 L1083.8,275.4 L1084.3,276.2 L1084.8,276.9 L1085.3,277.6 L1085.8,278.2 L1086.3,278.8 L1086.8,279.5 L1087.3,280.0 L1087.8,280.6 L1088.3,281.2 L1088.8,281.7 L1089.3,282.2 L1089.8,282.7 L1090.3,283.1 L1090.8,283.6 L1091.3,284.0 L1091.8,284.4 L1092.3,284.8 L1092.8,285.2 L1093.3,285.5 L1093.8,285.9 L1094.3,286.2 L1094.8,286.5 L1095.3,286.8 L1095.8,287.1 L1096.3,287.4 L1096.8,287.6 L1097.3,287.9 L1097.8,288.1 L1098.3,288.4 L1098.8,288.6 L1099.3,288.8 L1099.8,289.0 L1100.3,289.1 L1100.8,289.3 L1101.3,289.5 L1101.8,289.6 L1102.3,289.8 L1102.8,289.9 L1103.3,290.1 L1103.8,290.2 L1104.3,290.3 L1104.8,290.4 L1105.3,290.5 L1105.8,290.6 L1106.3,290.7 L1106.8,290.8 L1107.3,290.9 L1107.8,291.0 L1108.3,291.0 L1108.8,291.1 L1109.3,291.2 L1109.8,291.2 L1110.3,291.3 L1110.8,291.4 L1111.3,291.4 L1111.8,291.5 L1112.3,291.5 L1112.8,291.5 L1113.3,291.6 L1113.8,291.6 L1114.3,291.6 L1114.8,291.7 L1115.3,291.7 L1115.8,291.7 L1116.3,291.8 L1116.8,291.8 L1117.3,291.8 L1117.8,291.8 L1118.3,291.9 L1118.8,291.9 L1119.3,291.9 L1119.8,291.9 L1120.3,291.9 L1120.8,291.9 L1121.3,291.9 L1121.8,292.0 L1122.3,292.0 L1122.8,292.0 L1123.3,292.0 L1123.8,292.0 L1124.3,292.0 L1124.8,292.0 L1125.3,292.0 L1125.8,292.0 L1126.3,292.0 L1126.8,292.0 L1127.3,292.0 L1127.8,292.0 L1128.3,292.1 L1128.8,292.1 L1129.3,292.1 L1129.8,292.1 L1130.3,292.1 L1130.8,292.1 L1131.3,292.1 L1131.8,292.1 L1132.3,292.1 L1132.8,292.1 L1133.3,292.1 L1133.8,292.1 L1134.3,292.1 L1134.8,292.1 L1135.3,292.1 L1135.8,292.1 L1136.3,292.1 L1136.8,292.1 L1137.3,292.1 L1137.8,292.1 L1138.3,292.1 L1138.8,292.1 L1139.3,292.1 L1139.8,292.1 L1140.3,292.1 L1140.8,292.1 L1141.3,292.1 L1141.8,292.1 L1142.3,292.1 L1142.8,292.1 L1143.3,292.1 L1143.8,292.1 L1144.3,292.1 L1144.8,292.1 L1145.3,292.1 L1145.8,292.1 L1146.3,292.1 L1146.8,292.1 L1147.3,292.1 L1147.8,292.1 L1148.3,292.1 L1148.8,292.1 L1149.3,292.1 L1149.8,292.1 L1150.3,292.1 L1150.8,292.1 L1151.3,292.1 L1151.8,292.1 L1152.3,292.1 L1152.8,292.1 L1153.3,292.1 L1153.8,292.1 L1154.3,292.1 L1154.8,292.1 L1155.3,292.1 L1155.8,292.1 L1156.3,292.1 L1156.8,292.1 L1157.3,292.1 L1157.8,292.1 L1158.3,292.1 L1158.8,292.1 L1159.3,292.1 L1159.8,292.1 L1160.3,292.1 L1160.8,292.1 L1161.3,292.1 L1161.8,292.1 L1162.3,292.1 L1162.8,292.1 L1163.3,292.1 L1163.8,292.1 L1164.3,292.1 L1164.8,292.1" stroke="#0a6aad" stroke-width="2.7" fill="none" stroke-linejoin="round" stroke-linecap="round" />
<ellipse cx="0" cy="0" rx="2.1" ry="5.0" fill="#ff4a4a" transform="translate(1023.7,226.0) rotate(36)"/>
<ellipse cx="0" cy="0" rx="2.1" ry="5.0" fill="#ff4a4a" transform="translate(1004.9,252.8) rotate(36)"/>
<ellipse cx="0" cy="0" rx="2.1" ry="5.0" fill="#ff4a4a" transform="translate(994.6,313.4) rotate(36)"/>
<ellipse cx="0" cy="0" rx="2.1" ry="5.0" fill="#ff4a4a" transform="translate(1051.6,221.2) rotate(36)"/>
<ellipse cx="0" cy="0" rx="2.1" ry="5.0" fill="#ff4a4a" transform="translate(1033.2,156.2) rotate(36)"/>
<ellipse cx="0" cy="0" rx="2.1" ry="5.0" fill="#ff4a4a" transform="translate(1014.1,174.9) rotate(36)"/>
<ellipse cx="0" cy="0" rx="2.1" ry="5.0" fill="#ff4a4a" transform="translate(1071.4,160.0) rotate(36)"/>
<ellipse cx="0" cy="0" rx="2.1" ry="5.0" fill="#ff4a4a" transform="translate(1062.2,186.9) rotate(36)"/>
<ellipse cx="0" cy="0" rx="2.1" ry="5.0" fill="#ff4a4a" transform="translate(1052.3,220.2) rotate(36)"/>
<ellipse cx="0" cy="0" rx="2.1" ry="5.0" fill="#ff4a4a" transform="translate(1024.0,225.8) rotate(36)"/>
<ellipse cx="0" cy="0" rx="2.1" ry="5.0" fill="#ff4a4a" transform="translate(1080.6,221.6) rotate(36)"/>
<ellipse cx="0" cy="0" rx="2.1" ry="5.0" fill="#ff4a4a" transform="translate(1089.8,212.4) rotate(36)"/>
<ellipse cx="0" cy="0" rx="2.1" ry="5.0" fill="#ff4a4a" transform="translate(1100.4,201.1) rotate(36)"/>
<ellipse cx="0" cy="0" rx="2.1" ry="5.0" fill="#ff4a4a" transform="translate(1109.6,210.3) rotate(36)"/>
<ellipse cx="0" cy="0" rx="2.1" ry="5.0" fill="#ff4a4a" transform="translate(1118.8,167.8) rotate(36)"/>
<ellipse cx="0" cy="0" rx="2.1" ry="5.0" fill="#ff4a4a" transform="translate(1128.0,174.2) rotate(36)"/>
<ellipse cx="0" cy="0" rx="2.1" ry="5.0" fill="#ff4a4a" transform="translate(1137.9,178.4) rotate(36)"/>
<ellipse cx="0" cy="0" rx="2.1" ry="5.0" fill="#ff4a4a" transform="translate(1147.1,170.0) rotate(36)"/>
<ellipse cx="0" cy="0" rx="2.1" ry="5.0" fill="#ff4a4a" transform="translate(1157.0,165.0) rotate(36)"/>
<ellipse cx="0" cy="0" rx="2.1" ry="5.0" fill="#ff4a4a" transform="translate(1176.8,148.7) rotate(36)"/>
<ellipse cx="0" cy="0" rx="2.1" ry="5.0" fill="#ff4a4a" transform="translate(1185.3,145.9) rotate(36)"/>
<ellipse cx="0" cy="0" rx="2.1" ry="5.0" fill="#ff4a4a" transform="translate(966.0,366.2) rotate(36)"/>
<rect x="-2.85" y="-3" width="5.7" height="6" fill="#c80000" transform="translate(1014.6,257.6) skewY(-45)"/>
<rect x="-2.85" y="-3" width="5.7" height="6" fill="#c80000" transform="translate(1004.3,279.4) skewY(-45)"/>
<rect x="-2.85" y="-3" width="5.7" height="6" fill="#c80000" transform="translate(985.5,309.8) skewY(-45)"/>
<rect x="-2.85" y="-3" width="5.7" height="6" fill="#c80000" transform="translate(1052.3,100.6) skewY(-45)"/>
<rect x="-2.85" y="-3" width="5.7" height="6" fill="#c80000" transform="translate(1042.6,130.3) skewY(-45)"/>
<rect x="-2.85" y="-3" width="5.7" height="6" fill="#c80000" transform="translate(1080.6,185.5) skewY(-45)"/>
<rect x="-2.85" y="-3" width="5.7" height="6" fill="#c80000" transform="translate(1061.5,203.2) skewY(-45)"/>
<rect x="-2.85" y="-3" width="5.7" height="6" fill="#c80000" transform="translate(1071.4,215.2) skewY(-45)"/>
<rect x="-2.85" y="-3" width="5.7" height="6" fill="#c80000" transform="translate(1089.8,203.9) skewY(-45)"/>
<rect x="-2.85" y="-3" width="5.7" height="6" fill="#c80000" transform="translate(1099.7,220.9) skewY(-45)"/>
<rect x="-2.85" y="-3" width="5.7" height="6" fill="#c80000" transform="translate(1109.6,194.0) skewY(-45)"/>
<rect x="-2.85" y="-3" width="5.7" height="6" fill="#c80000" transform="translate(1118.8,191.2) skewY(-45)"/>
<rect x="-2.85" y="-3" width="5.7" height="6" fill="#c80000" transform="translate(1128.7,170.7) skewY(-45)"/>
<rect x="-2.85" y="-3" width="5.7" height="6" fill="#c80000" transform="translate(1148.5,177.7) skewY(-45)"/>
<rect x="-2.85" y="-3" width="5.7" height="6" fill="#c80000" transform="translate(1157.0,162.2) skewY(-45)"/>
<rect x="-2.85" y="-3" width="5.7" height="6" fill="#c80000" transform="translate(1166.9,157.9) skewY(-45)"/>
<rect x="-2.85" y="-3" width="5.7" height="6" fill="#c80000" transform="translate(1176.8,150.8) skewY(-45)"/>
<rect x="-2.85" y="-3" width="5.7" height="6" fill="#c80000" transform="translate(1186.0,145.2) skewY(-45)"/>
<rect x="-2.85" y="-3" width="5.7" height="6" fill="#c80000" transform="translate(975.7,354.1) skewY(-45)"/>
<rect x="-2.85" y="-3" width="5.7" height="6" fill="#c80000" transform="translate(966.0,372.3) skewY(-45)"/>
<path d="M966.0,359.9 L966.5,359.2 L967.0,358.6 L967.5,357.9 L968.0,357.1 L968.5,356.4 L969.0,355.7 L969.5,355.0 L970.0,354.2 L970.5,353.5 L971.0,352.7 L971.5,352.0 L972.0,351.2 L972.5,350.4 L973.0,349.6 L973.5,348.8 L974.0,348.0 L974.5,347.1 L975.0,346.3 L975.5,345.4 L976.0,344.5 L976.5,343.7 L977.0,342.8 L977.5,341.9 L978.0,340.9 L978.5,340.0 L979.0,339.0 L979.5,338.1 L980.0,337.1 L980.5,336.1 L981.0,335.1 L981.5,334.1 L982.0,333.0 L982.5,332.0 L983.0,330.9 L983.5,329.8 L984.0,328.7 L984.5,327.6 L985.0,326.5 L985.5,325.3 L986.0,324.1 L986.5,323.0 L987.0,321.8 L987.5,320.5 L988.0,319.3 L988.5,318.0 L989.0,316.7 L989.5,315.5 L990.0,314.1 L990.5,312.8 L991.0,311.5 L991.5,310.1 L992.0,308.7 L992.5,307.3 L993.0,305.9 L993.5,304.4 L994.0,303.0 L994.5,301.5 L995.0,300.0 L995.5,298.5 L996.0,296.9 L996.5,295.4 L997.0,293.8 L997.5,292.2 L998.0,290.6 L998.5,289.0 L999.0,287.4 L999.5,285.7 L1000.0,284.0 L1000.5,282.3 L1001.0,280.6 L1001.5,278.9 L1002.0,277.2 L1002.5,275.4 L1003.0,273.7 L1003.5,271.9 L1004.0,270.1 L1004.5,268.3 L1005.0,266.5 L1005.5,264.7 L1006.0,262.8 L1006.5,261.0 L1007.0,259.2 L1007.5,257.3 L1008.0,255.4 L1008.5,253.5 L1009.0,251.7 L1009.5,249.8 L1010.0,247.9 L1010.5,246.0 L1011.0,244.1 L1011.5,242.2 L1012.0,240.3 L1012.5,238.4 L1013.0,236.4 L1013.5,234.5 L1014.0,232.6 L1014.5,230.7 L1015.0,228.8 L1015.5,226.9 L1016.0,225.0 L1016.5,223.2 L1017.0,221.3 L1017.5,219.4 L1018.0,217.6 L1018.5,215.7 L1019.0,213.9 L1019.5,212.1 L1020.0,210.3 L1020.5,208.5 L1021.0,206.7 L1021.5,204.9 L1022.0,203.2 L1022.5,201.5 L1023.0,199.8 L1023.5,198.1 L1024.0,196.4 L1024.5,194.8 L1025.0,193.2 L1025.5,191.6 L1026.0,190.0 L1026.5,188.5 L1027.0,187.0 L1027.5,185.5 L1028.0,184.0 L1028.5,182.6 L1029.0,181.2 L1029.5,179.9 L1030.0,178.5 L1030.5,177.2 L1031.0,176.0 L1031.5,174.7 L1032.0,173.6 L1032.5,172.4 L1033.0,171.3 L1033.5,170.2 L1034.0,169.2 L1034.5,168.2 L1035.0,167.2 L1035.5,166.3 L1036.0,165.4 L1036.5,164.5 L1037.0,163.7 L1037.5,162.9 L1038.0,162.2 L1038.5,161.5 L1039.0,160.9 L1039.5,160.3 L1040.0,159.7 L1040.5,159.2 L1041.0,158.7 L1041.5,158.3 L1042.0,157.9 L1042.5,157.5 L1043.0,157.2 L1043.5,156.9 L1044.0,156.7 L1044.5,156.5 L1045.0,156.4 L1045.5,156.3 L1046.0,156.2 L1046.5,156.2 L1047.0,156.2 L1047.5,156.2 L1048.0,156.3 L1048.5,156.4 L1049.0,156.6 L1049.5,156.7 L1050.0,157.0 L1050.5,157.2 L1051.0,157.5 L1051.5,157.9 L1052.0,158.2 L1052.5,158.6 L1053.0,159.0 L1053.5,159.5 L1054.0,160.0 L1054.5,160.5 L1055.0,161.0 L1055.5,161.6 L1056.0,162.2 L1056.5,162.8 L1057.0,163.4 L1057.5,164.1 L1058.0,164.8 L1058.5,165.5 L1059.0,166.2 L1059.5,166.9 L1060.0,167.7 L1060.5,168.5 L1061.0,169.3 L1061.5,170.1 L1062.0,170.9 L1062.5,171.7 L1063.0,172.6 L1063.5,173.4 L1064.0,174.3 L1064.5,175.2 L1065.0,176.0 L1065.5,176.9 L1066.0,177.8 L1066.5,178.7 L1067.0,179.6 L1067.5,180.5 L1068.0,181.4 L1068.5,182.4 L1069.0,183.3 L1069.5,184.2 L1070.0,185.1 L1070.5,186.0 L1071.0,186.9 L1071.5,187.8 L1072.0,188.7 L1072.5,189.5 L1073.0,190.4 L1073.5,191.3 L1074.0,192.2 L1074.5,193.0 L1075.0,193.8 L1075.5,194.7 L1076.0,195.5 L1076.5,196.3 L1077.0,197.1 L1077.5,197.9 L1078.0,198.7 L1078.5,199.4 L1079.0,200.2 L1079.5,200.9 L1080.0,201.6 L1080.5,202.3 L1081.0,203.0 L1081.5,203.7 L1082.0,204.4 L1082.5,205.0 L1083.0,205.6 L1083.5,206.2 L1084.0,206.8 L1084.5,207.4 L1085.0,207.9 L1085.5,208.5 L1086.0,209.0 L1086.5,209.5 L1087.0,210.0 L1087.5,210.4 L1088.0,210.9 L1088.5,211.3 L1089.0,211.7 L1089.5,212.1 L1090.0,212.5 L1090.5,212.8 L1091.0,213.1 L1091.5,213.5 L1092.0,213.7 L1092.5,214.0 L1093.0,214.3 L1093.5,214.5 L1094.0,214.8 L1094.5,215.0 L1095.0,215.1 L1095.5,215.3 L1096.0,215.5 L1096.5,215.6 L1097.0,215.7 L1097.5,215.8 L1098.0,215.9 L1098.5,216.0 L1099.0,216.0 L1099.5,216.1 L1100.0,216.1 L1100.5,216.1 L1101.0,216.1 L1101.5,216.1 L1102.0,216.0 L1102.5,216.0 L1103.0,215.9 L1103.5,215.9 L1104.0,215.8 L1104.5,215.7 L1105.0,215.5 L1105.5,215.4 L1106.0,215.3 L1106.5,215.1 L1107.0,215.0 L1107.5,214.8 L1108.0,214.6 L1108.5,214.4 L1109.0,214.2 L1109.5,214.0 L1110.0,213.7 L1110.5,213.5 L1111.0,213.2 L1111.5,213.0 L1112.0,212.7 L1112.5,212.4 L1113.0,212.1 L1113.5,211.9 L1114.0,211.6 L1114.5,211.2 L1115.0,210.9 L1115.5,210.6 L1116.0,210.3 L1116.5,209.9 L1117.0,209.6 L1117.5,209.2 L1118.0,208.9 L1118.5,208.5 L1119.0,208.1 L1119.5,207.8 L1120.0,207.4 L1120.5,207.0 L1121.0,206.6 L1121.5,206.2 L1122.0,205.8 L1122.5,205.4 L1123.0,205.0 L1123.5,204.6 L1124.0,204.2 L1124.5,203.8 L1125.0,203.3 L1125.5,202.9 L1126.0,202.5 L1126.5,202.0 L1127.0,201.6 L1127.5,201.2 L1128.0,200.7 L1128.5,200.3 L1129.0,199.8 L1129.5,199.4 L1130.0,198.9 L1130.5,198.5 L1131.0,198.0 L1131.5,197.5 L1132.0,197.1 L1132.5,196.6 L1133.0,196.1 L1133.5,195.7 L1134.0,195.2 L1134.5,194.7 L1135.0,194.3 L1135.5,193.8 L1136.0,193.3 L1136.5,192.8 L1137.0,192.4 L1137.5,191.9 L1138.0,191.4 L1138.5,190.9 L1139.0,190.4 L1139.5,189.9 L1140.0,189.5 L1140.5,189.0 L1141.0,188.5 L1141.5,188.0 L1142.0,187.5 L1142.5,187.0 L1143.0,186.5 L1143.5,186.1 L1144.0,185.6 L1144.5,185.1 L1145.0,184.6 L1145.5,184.1 L1146.0,183.6 L1146.5,183.1 L1147.0,182.6 L1147.5,182.1 L1148.0,181.6 L1148.5,181.1 L1149.0,180.6 L1149.5,180.1 L1150.0,179.6 L1150.5,179.1 L1151.0,178.6 L1151.5,178.1 L1152.0,177.7 L1152.5,177.2 L1153.0,176.7 L1153.5,176.2 L1154.0,175.7 L1154.5,175.2 L1155.0,174.7 L1155.5,174.2 L1156.0,173.7 L1156.5,173.2 L1157.0,172.7 L1157.5,172.2 L1158.0,171.7 L1158.5,171.2 L1159.0,170.7 L1159.5,170.2 L1160.0,169.7 L1160.5,169.2 L1161.0,168.7 L1161.5,168.2 L1162.0,167.7 L1162.5,167.2 L1163.0,166.7 L1163.5,166.2 L1164.0,165.7 L1164.5,165.2 L1165.0,164.7 L1165.5,164.2 L1166.0,163.7 L1166.5,163.2 L1167.0,162.7 L1167.5,162.2 L1168.0,161.7 L1168.5,161.2 L1169.0,160.7 L1169.5,160.2 L1170.0,159.7 L1170.5,159.2 L1171.0,158.7 L1171.5,158.2 L1172.0,157.7 L1172.5,157.2 L1173.0,156.7 L1173.5,156.2 L1174.0,155.7 L1174.5,155.2 L1175.0,154.7 L1175.5,154.2 L1176.0,153.7 L1176.5,153.2 L1177.0,152.7 L1177.5,152.2 L1178.0,151.7 L1178.5,151.2 L1179.0,150.7 L1179.5,150.2 L1180.0,149.7 L1180.5,149.2 L1181.0,148.7 L1181.5,148.2 L1182.0,147.7 L1182.5,147.2" stroke="#ff0000" stroke-width="3.8" fill="none" stroke-linejoin="round" stroke-linecap="round" />
<circle cx="1301.3" cy="177.0" r="2.9" fill="#11dd11"/>
<circle cx="1303.8" cy="197.0" r="2.9" fill="#11dd11"/>
<circle cx="1303.8" cy="206.3" r="2.9" fill="#11dd11"/>
<circle cx="1300.0" cy="216.3" r="2.9" fill="#11dd11"/>
<circle cx="1307.0" cy="236.3" r="2.9" fill="#11dd11"/>
<circle cx="1302.5" cy="245.8" r="2.9" fill="#11dd11"/>
<circle cx="1360.0" cy="266.3" r="2.9" fill="#11dd11"/>
<circle cx="1400.5" cy="275.5" r="2.9" fill="#11dd11"/>
<circle cx="1409.3" cy="285.0" r="2.9" fill="#11dd11"/>
<circle cx="1419.3" cy="294.5" r="2.9" fill="#11dd11"/>
<circle cx="1354.5" cy="305.0" r="2.9" fill="#11dd11"/>
<circle cx="1303.3" cy="314.5" r="2.9" fill="#11dd11"/>
<circle cx="1299.5" cy="343.8" r="2.9" fill="#11dd11"/>
<circle cx="1300.0" cy="353.3" r="2.9" fill="#11dd11"/>
<circle cx="1301.3" cy="363.8" r="2.9" fill="#11dd11"/>
<circle cx="1299.5" cy="373.0" r="2.9" fill="#11dd11"/>
<circle cx="1301.3" cy="383.3" r="2.9" fill="#11dd11"/>
<circle cx="1298.8" cy="392.5" r="2.9" fill="#11dd11"/>
<circle cx="1298.8" cy="402.5" r="2.9" fill="#11dd11"/>
<circle cx="1301.3" cy="412.5" r="2.9" fill="#11dd11"/>
<rect x="1295.5" y="174.6" width="4.9" height="4.9" fill="#0c8a0c"/>
<rect x="1295.0" y="184.6" width="4.9" height="4.9" fill="#0c8a0c"/>
<rect x="1300.8" y="223.9" width="4.9" height="4.9" fill="#0c8a0c"/>
<rect x="1296.8" y="233.9" width="4.9" height="4.9" fill="#0c8a0c"/>
<rect x="1322.0" y="252.6" width="4.9" height="4.9" fill="#0c8a0c"/>
<rect x="1386.8" y="263.4" width="4.9" height="4.9" fill="#0c8a0c"/>
<rect x="1413.8" y="272.6" width="4.9" height="4.9" fill="#0c8a0c"/>
<rect x="1447.5" y="282.6" width="4.9" height="4.9" fill="#0c8a0c"/>
<rect x="1396.3" y="292.6" width="4.9" height="4.9" fill="#0c8a0c"/>
<rect x="1331.3" y="302.1" width="4.9" height="4.9" fill="#0c8a0c"/>
<rect x="1298.8" y="312.6" width="4.9" height="4.9" fill="#0c8a0c"/>
<rect x="1294.5" y="322.1" width="4.9" height="4.9" fill="#0c8a0c"/>
<rect x="1293.0" y="332.1" width="4.9" height="4.9" fill="#0c8a0c"/>
<rect x="1292.0" y="341.4" width="4.9" height="4.9" fill="#0c8a0c"/>
<rect x="1293.3" y="350.9" width="4.9" height="4.9" fill="#0c8a0c"/>
<rect x="1293.8" y="361.4" width="4.9" height="4.9" fill="#0c8a0c"/>
<rect x="1295.0" y="380.9" width="4.9" height="4.9" fill="#0c8a0c"/>
<rect x="1296.3" y="410.1" width="4.9" height="4.9" fill="#0c8a0c"/>
<rect x="1294.5" y="370.6" width="4.9" height="4.9" fill="#0c8a0c"/>
<rect x="1294.5" y="390.6" width="4.9" height="4.9" fill="#0c8a0c"/>
<rect x="1294.5" y="400.6" width="4.9" height="4.9" fill="#0c8a0c"/>
<path d="M1299.2,176.0 L1299.2,176.5 L1299.2,177.0 L1299.2,177.5 L1299.2,178.0 L1299.2,178.5 L1299.2,179.0 L1299.2,179.5 L1299.2,180.0 L1299.2,180.5 L1299.2,181.0 L1299.2,181.5 L1299.2,182.0 L1299.2,182.5 L1299.2,183.0 L1299.2,183.5 L1299.2,184.0 L1299.2,184.5 L1299.2,185.0 L1299.2,185.5 L1299.2,186.0 L1299.2,186.5 L1299.2,187.0 L1299.2,187.5 L1299.2,188.0 L1299.2,188.5 L1299.2,189.0 L1299.2,189.5 L1299.2,190.0 L1299.2,190.5 L1299.2,191.0 L1299.2,191.5 L1299.2,192.0 L1299.2,192.5 L1299.2,193.0 L1299.2,193.5 L1299.2,194.0 L1299.2,194.5 L1299.2,195.0 L1299.2,195.5 L1299.2,196.0 L1299.2,196.5 L1299.2,197.0 L1299.2,197.5 L1299.2,198.0 L1299.2,198.5 L1299.2,199.0 L1299.2,199.5 L1299.2,200.0 L1299.2,200.5 L1299.2,201.0 L1299.2,201.5 L1299.2,202.0 L1299.2,202.5 L1299.2,203.0 L1299.2,203.5 L1299.2,204.0 L1299.2,204.5 L1299.2,205.0 L1299.2,205.5 L1299.2,206.0 L1299.2,206.5 L1299.2,207.0 L1299.2,207.5 L1299.2,208.0 L1299.2,208.5 L1299.2,209.0 L1299.2,209.5 L1299.2,210.0 L1299.2,210.5 L1299.2,211.0 L1299.2,211.5 L1299.2,212.0 L1299.2,212.5 L1299.2,213.0 L1299.2,213.5 L1299.2,214.0 L1299.2,214.5 L1299.2,215.0 L1299.2,215.5 L1299.2,216.0 L1299.2,216.5 L1299.2,217.0 L1299.2,217.5 L1299.2,218.0 L1299.2,218.5 L1299.2,219.0 L1299.2,219.5 L1299.2,220.0 L1299.2,220.5 L1299.3,221.0 L1299.3,221.5 L1299.3,222.0 L1299.3,222.5 L1299.3,223.0 L1299.3,223.5 L1299.3,224.0 L1299.3,224.5 L1299.3,225.0 L1299.4,225.5 L1299.4,226.0 L1299.4,226.5 L1299.4,227.0 L1299.5,227.5 L1299.5,228.0 L1299.5,228.5 L1299.6,229.0 L1299.6,229.5 L1299.6,230.0 L1299.7,230.5 L1299.7,231.0 L1299.8,231.5 L1299.9,232.0 L1299.9,232.5 L1300.0,233.0 L1300.1,233.5 L1300.2,234.0 L1300.3,234.5 L1300.4,235.0 L1300.6,235.5 L1300.7,236.0 L1300.9,236.5 L1301.0,237.0 L1301.2,237.5 L1301.4,238.0 L1301.6,238.5 L1301.9,239.0 L1302.1,239.5 L1302.4,240.0 L1302.7,240.5 L1303.0,241.0 L1303.3,241.5 L1303.7,242.0 L1304.1,242.5 L1304.5,243.0 L1304.9,243.5 L1305.4,244.0 L1305.9,244.5 L1306.5,245.0 L1307.1,245.5 L1307.7,246.0 L1308.4,246.5 L1309.1,247.0 L1309.8,247.5 L1310.6,248.0 L1311.5,248.5 L1312.4,249.0 L1313.3,249.5 L1314.3,250.0 L1315.3,250.5 L1316.4,251.0 L1317.6,251.5 L1318.8,252.0 L1320.1,252.5 L1321.4,253.0 L1322.8,253.5 L1324.3,254.0 L1325.8,254.5 L1327.4,255.0 L1329.0,255.5 L1330.7,256.0 L1332.5,256.5 L1334.3,257.0 L1336.2,257.5 L1338.2,258.0 L1340.2,258.5 L1342.3,259.0 L1344.4,259.5 L1346.6,260.0 L1348.9,260.5 L1351.2,261.0 L1353.5,261.5 L1355.9,262.0 L1358.4,262.5 L1360.8,263.0 L1363.4,263.5 L1365.9,264.0 L1368.5,264.5 L1371.1,265.0 L1373.7,265.5 L1376.4,266.0 L1379.0,266.5 L1381.7,267.0 L1384.3,267.5 L1387.0,268.0 L1389.6,268.5 L1392.3,269.0 L1394.9,269.5 L1397.4,270.0 L1400.0,270.5 L1402.5,271.0 L1404.9,271.5 L1407.3,272.0 L1409.6,272.5 L1411.9,273.0 L1414.1,273.5 L1416.2,274.0 L1418.2,274.5 L1420.2,275.0 L1422.0,275.5 L1423.8,276.0 L1425.4,276.5 L1426.9,277.0 L1428.3,277.5 L1429.6,278.0 L1430.7,278.5 L1431.8,279.0 L1432.7,279.5 L1433.4,280.0 L1434.1,280.5 L1434.6,281.0 L1434.9,281.5 L1435.1,282.0 L1435.2,282.5 L1435.1,283.0 L1434.9,283.5 L1434.6,284.0 L1434.1,284.5 L1433.4,285.0 L1432.7,285.5 L1431.8,286.0 L1430.7,286.5 L1429.6,287.0 L1428.3,287.5 L1426.9,288.0 L1425.4,288.5 L1423.8,289.0 L1422.0,289.5 L1420.2,290.0 L1418.2,290.5 L1416.2,291.0 L1414.1,291.5 L1411.9,292.0 L1409.6,292.5 L1407.3,293.0 L1404.9,293.5 L1402.5,294.0 L1400.0,294.5 L1397.4,295.0 L1394.9,295.5 L1392.3,296.0 L1389.6,296.5 L1387.0,297.0 L1384.3,297.5 L1381.7,298.0 L1379.0,298.5 L1376.4,299.0 L1373.7,299.5 L1371.1,300.0 L1368.5,300.5 L1365.9,301.0 L1363.4,301.5 L1360.8,302.0 L1358.4,302.5 L1355.9,303.0 L1353.5,303.5 L1351.2,304.0 L1348.9,304.5 L1346.6,305.0 L1344.4,305.5 L1342.3,306.0 L1340.2,306.5 L1338.2,307.0 L1336.2,307.5 L1334.3,308.0 L1332.5,308.5 L1330.7,309.0 L1329.0,309.5 L1327.4,310.0 L1325.8,310.5 L1324.3,311.0 L1322.8,311.5 L1321.4,312.0 L1320.1,312.5 L1318.8,313.0 L1317.6,313.5 L1316.4,314.0 L1315.3,314.5 L1314.3,315.0 L1313.3,315.5 L1312.4,316.0 L1311.5,316.5 L1310.6,317.0 L1309.8,317.5 L1309.1,318.0 L1308.4,318.5 L1307.7,319.0 L1307.1,319.5 L1306.5,320.0 L1305.9,320.5 L1305.4,321.0 L1304.9,321.5 L1304.5,322.0 L1304.1,322.5 L1303.7,323.0 L1303.3,323.5 L1303.0,324.0 L1302.7,324.5 L1302.4,325.0 L1302.1,325.5 L1301.9,326.0 L1301.6,326.5 L1301.4,327.0 L1301.2,327.5 L1301.0,328.0 L1300.9,328.5 L1300.7,329.0 L1300.6,329.5 L1300.4,330.0 L1300.3,330.5 L1300.2,331.0 L1300.1,331.5 L1300.0,332.0 L1299.9,332.5 L1299.9,333.0 L1299.8,333.5 L1299.7,334.0 L1299.7,334.5 L1299.6,335.0 L1299.6,335.5 L1299.6,336.0 L1299.5,336.5 L1299.5,337.0 L1299.5,337.5 L1299.4,338.0 L1299.4,338.5 L1299.4,339.0 L1299.4,339.5 L1299.3,340.0 L1299.3,340.5 L1299.3,341.0 L1299.3,341.5 L1299.3,342.0 L1299.3,342.5 L1299.3,343.0 L1299.3,343.5 L1299.3,344.0 L1299.2,344.5 L1299.2,345.0 L1299.2,345.5 L1299.2,346.0 L1299.2,346.5 L1299.2,347.0 L1299.2,347.5 L1299.2,348.0 L1299.2,348.5 L1299.2,349.0 L1299.2,349.5 L1299.2,350.0 L1299.2,350.5 L1299.2,351.0 L1299.2,351.5 L1299.2,352.0 L1299.2,352.5 L1299.2,353.0 L1299.2,353.5 L1299.2,354.0 L1299.2,354.5 L1299.2,355.0 L1299.2,355.5 L1299.2,356.0 L1299.2,356.5 L1299.2,357.0 L1299.2,357.5 L1299.2,358.0 L1299.2,358.5 L1299.2,359.0 L1299.2,359.5 L1299.2,360.0 L1299.2,360.5 L1299.2,361.0 L1299.2,361.5 L1299.2,362.0 L1299.2,362.5 L1299.2,363.0 L1299.2,363.5 L1299.2,364.0 L1299.2,364.5 L1299.2,365.0 L1299.2,365.5 L1299.2,366.0 L1299.2,366.5 L1299.2,367.0 L1299.2,367.5 L1299.2,368.0 L1299.2,368.5 L1299.2,369.0 L1299.2,369.5 L1299.2,370.0 L1299.2,370.5 L1299.2,371.0 L1299.2,371.5 L1299.2,372.0 L1299.2,372.5 L1299.2,373.0 L1299.2,373.5 L1299.2,374.0 L1299.2,374.5 L1299.2,375.0 L1299.2,375.5 L1299.2,376.0 L1299.2,376.5 L1299.2,377.0 L1299.2,377.5 L1299.2,378.0 L1299.2,378.5 L1299.2,379.0 L1299.2,379.5 L1299.2,380.0 L1299.2,380.5 L1299.2,381.0 L1299.2,381.5 L1299.2,382.0 L1299.2,382.5 L1299.2,383.0 L1299.2,383.5 L1299.2,384.0 L1299.2,384.5 L1299.2,385.0 L1299.2,385.5 L1299.2,386.0 L1299.2,386.5 L1299.2,387.0 L1299.2,387.5 L1299.2,388.0 L1299.2,388.5 L1299.2,389.0 L1299.2,389.5 L1299.2,390.0 L1299.2,390.5 L1299.2,391.0 L1299.2,391.5 L1299.2,392.0 L1299.2,392.5 L1299.2,393.0 L1299.2,393.5 L1299.2,394.0 L1299.2,394.5 L1299.2,395.0 L1299.2,395.5 L1299.2,396.0 L1299.2,396.5 L1299.2,397.0 L1299.2,397.5 L1299.2,398.0 L1299.2,398.5 L1299.2,399.0 L1299.2,399.5 L1299.2,400.0 L1299.2,400.5 L1299.2,401.0 L1299.2,401.5 L1299.2,402.0 L1299.2,402.5 L1299.2,403.0 L1299.2,403.5 L1299.2,404.0 L1299.2,404.5 L1299.2,405.0 L1299.2,405.5 L1299.2,406.0 L1299.2,406.5 L1299.2,407.0 L1299.2,407.5 L1299.2,408.0 L1299.2,408.5 L1299.2,409.0 L1299.2,409.5 L1299.2,410.0 L1299.2,410.5 L1299.2,411.0 L1299.2,411.5 L1299.2,412.0 L1299.2,412.5 L1299.2,413.0 L1299.2,413.5 L1299.2,414.0" stroke="#0c8a0c" stroke-width="3.2" fill="none" stroke-linejoin="round" stroke-linecap="round" />
<rect x="897.2" y="1044.7" width="71.6" height="118.0" fill="#f7e5d3"/>
<rect x="969" y="920.1" width="71.1" height="118.9" fill="#f7e5d3"/>
<rect x="1042.3" y="766" width="71.0" height="149.2" fill="#f7e5d3"/>
<rect x="1139" y="609.6" width="70.8" height="134.5" fill="#f7e5d3"/>
<line x1="828.9" y1="1161.9" x2="1193.9" y2="535.9" stroke="#000" stroke-width="5" stroke-dasharray="5,12.99"/>
<path d="M831.1,1147.1 L832.3,1146.4 L834.7,1133.1 L836.5,1132.5 L838.3,1133.7 L840.2,1134.1 L842.0,1136.7 L843.8,1139.8 L845.6,1140.4 L846.8,1138.9 L848.7,1142.2 L850.7,1145.2 L852.9,1141.0 L854.7,1142.8 L856.3,1144.6 L858.0,1140.6 L860.2,1144.6 L862.0,1145.8 L864.4,1147.1 L866.8,1153.1 L868.7,1141.6 L870.9,1130.1 L872.9,1134.3 L874.7,1136.7 L876.6,1140.4 L878.4,1138.6 L880.2,1138.0 L882.6,1150.7 L884.4,1140.4 L886.3,1122.2 L888.1,1119.8 L889.9,1118.3 L891.1,1121.0 L892.9,1128.3 L894.7,1134.9 L896.6,1131.3 L898.8,1127.0 L900.4,1130.7 L902.0,1133.7 L903.8,1132.9 L905.7,1132.5 L907.5,1136.1 L908.7,1124.6 L909.9,1090.7 L911.1,1061.5 L912.9,1063.4 L914.8,1066.4 L916.0,1070.0 L917.8,1064.0 L919.9,1056.1 L921.4,1061.5 L923.0,1064.0 L924.5,1061.5 L925.9,1058.5 L927.9,1060.3 L929.3,1062.8 L931.1,1059.7 L933.0,1066.4 L934.8,1067.0 L936.6,1059.7 L938.4,1060.9 L940.2,1060.9 L942.1,1063.4 L944.5,1069.4 L946.3,1059.1 L947.5,1056.1 L949.3,1055.5 L951.2,1051.2 L952.6,1046.4 L954.2,1053.0 L955.4,1055.5 L957.2,1054.9 L958.4,1053.7 L959.6,1055.7 L961.5,1050.0 L963.3,1051.2 L965.1,1051.8 L966.9,1045.8 L968.7,1053.0 L970.6,1054.3 L972.4,1061.5 L974.2,1065.2 L976.0,1059.1 L977.8,1057.9 L979.7,1059.1 L981.5,1053.0 L983.3,1045.8 L984.9,1040.3 L986.3,1042.1 L988.1,1047.0 L990.6,1045.2 L992.4,1051.8 L994.2,1057.9 L996.0,1067.6 L997.9,1076.1 L999.7,1076.1 L1002.3,1077.9 L1003.8,1086.9 L1005.8,1086.2 L1007.0,1089.4 L1008.7,1094.6 L1010.2,1091.4 L1011.8,1088.2 L1013.4,1089.4 L1015.4,1083.7 L1016.9,1090.7 L1018.6,1093.3 L1020.7,1086.9 L1022.4,1093.3 L1023.7,1095.2 L1025.6,1093.3 L1027.1,1094.6 L1028.4,1099.7 L1030.1,1094.6 L1031.8,1089.7 L1033.0,1093.3 L1034.3,1111.2 L1035.9,1115.1 L1037.8,1115.7 L1039.7,1124.0 L1041.6,1126.6 L1044.2,1125.3 L1046.7,1123.4 L1048.4,1124.7 L1049.9,1125.3 L1051.9,1131.7 L1053.8,1141.9 L1055.3,1152.2 L1057.0,1150.9 L1058.9,1144.5 L1060.8,1143.2 L1062.5,1147.1 L1064.3,1151.5 L1065.9,1148.3 L1067.2,1145.8 L1069.1,1149.6 L1071.1,1145.1 L1073.0,1142.6 L1074.9,1147.7 L1076.8,1147.1 L1078.7,1148.3 L1081.9,1144.5 L1083.9,1152.2 L1085.8,1158.6 L1088.3,1150.3 L1090.9,1147.7 L1092.8,1152.2 L1095.4,1158.6 L1097.3,1154.8 L1099.2,1152.2 L1101.2,1156.7 L1103.1,1158.0 L1105.6,1155.4 L1107.6,1150.9 L1109.5,1146.4 L1111.1,1143.9 L1112.9,1139.4 L1115.0,1143.2 L1117.2,1141.9 L1119.1,1142.6 L1121.0,1147.1 L1122.9,1148.3 L1124.8,1141.9 L1126.8,1138.1 L1128.7,1136.8 L1130.6,1136.8 L1133.2,1140.0 L1135.1,1148.3 L1137.0,1143.2 L1138.9,1140.7 L1140.8,1140.7 L1142.4,1139.4 L1144.7,1129.8 L1146.6,1135.5 L1148.5,1136.8 L1151.3,1141.9 L1153.0,1140.7 L1154.9,1133.0 L1157.5,1133.0 L1160.3,1119.5 L1162.0,1124.0 L1163.6,1129.1 L1165.2,1130.4 L1167.1,1134.3 L1168.8,1139.4 L1170.9,1142.6 L1172.9,1138.1 L1174.8,1143.9 L1176.4,1145.8 L1178.0,1145.8 L1179.3,1150.3 L1181.2,1145.1 L1182.8,1142.6 L1184.4,1147.1 L1185.4,1146.4" stroke="#6cb6f5" stroke-width="1.7" fill="none" stroke-linejoin="round" stroke-linecap="round"/>
<line x1="828.5" y1="1039.5" x2="828.5" y2="1162.7" stroke="#808080" stroke-width="1.5"/>
<line x1="827.8" y1="1162.7" x2="1183.3" y2="1162.7" stroke="#000" stroke-width="2"/>
<line x1="898.1" y1="1162.7" x2="898.1" y2="1158.7" stroke="#000" stroke-width="1.3"/>
<line x1="969.4" y1="1162.7" x2="969.4" y2="1158.7" stroke="#000" stroke-width="1.3"/>
<line x1="1040" y1="1162.7" x2="1040" y2="1158.7" stroke="#000" stroke-width="1.3"/>
<line x1="1111.4" y1="1162.7" x2="1111.4" y2="1158.7" stroke="#000" stroke-width="1.3"/>
<line x1="1182" y1="1162.7" x2="1182" y2="1158.7" stroke="#000" stroke-width="1.3"/>
<line x1="828.5" y1="1039.5" x2="832.5" y2="1039.5" stroke="#808080" stroke-width="1.3"/>
<line x1="828.5" y1="1075.9" x2="832.5" y2="1075.9" stroke="#808080" stroke-width="1.3"/>
<line x1="828.5" y1="1110.8" x2="832.5" y2="1110.8" stroke="#808080" stroke-width="1.3"/>
<path d="M899.9,1012.8 L904.7,1013.5 L908.3,1016.0 L912.0,1013.5 L915.6,1016.9 L921.7,1016.4 L925.3,1011.1 L929.0,1003.1 L932.6,1004.8 L936.2,1012.8 L941.6,1005.5 L944.7,1009.2 L947.2,1010.4 L950.8,1015.2 L955.6,1016.0 L960.5,1012.1 L964.1,1014.0 L966.6,1011.6 L970.2,1008.7 L972.6,1016.0 L976.3,1018.4 L978.7,1009.7 L983.5,1010.4 L988.4,1012.1 L992.0,1006.7 L996.4,999.5 L999.3,991.0 L1001.7,989.8 L1006.6,981.3 L1011.4,971.6 L1016.3,961.9 L1019.2,952.9 L1022.4,950.9 L1026.0,948.5 L1028.4,947.3 L1030.9,943.7 L1034.5,948.0 L1036.9,929.1 L1039.8,921.3 L1043.0,926.2 L1045.4,926.7 L1048.3,944.2 L1051.5,944.4 L1054.1,931.5 L1057.1,937.6 L1062.4,957.0 L1066.0,952.9 L1068.5,958.2 L1071.6,946.1 L1074.5,972.8 L1077.0,950.5 L1080.6,955.8 L1083.0,965.0 L1085.9,957.0 L1089.1,962.6 L1093.9,964.3 L1098.3,964.3 L1100.7,963.6 L1103.6,969.1 L1106.1,970.8 L1110.9,985.4 L1114.6,982.0 L1117.7,993.4 L1121.8,991.0 L1125.5,984.4 L1128.4,986.1 L1132.3,991.0 L1137.6,991.0 L1140.5,988.5 L1143.7,994.6 L1147.3,992.7 L1150.9,994.6 L1154.6,995.8 L1157.5,988.5 L1160.6,992.2 L1163.1,994.6 L1166.2,982.0 L1169.1,984.9 L1172.8,993.4 L1175.2,998.3 L1180.1,994.6 L1186.1,994.6 L1189.8,998.3 L1192.9,994.6 L1195.8,999.0 L1198.3,991.0 L1200.7,997.0 L1203.6,989.8 L1206.7,986.9 L1209.7,995.8 L1212.8,989.8 L1216.4,991.7 L1218.9,995.1 L1222.0,991.7 L1225.4,992.2 L1227.4,998.3 L1230.3,992.2 L1233.4,997.0 L1237.1,998.3 L1241.4,1006.7 L1244.3,999.5 L1247.3,999.9" stroke="#0000ff" stroke-width="2.7" fill="none" stroke-linejoin="round" stroke-linecap="round"/>
<line x1="899.5" y1="852.4" x2="899.5" y2="1039.0" stroke="#000" stroke-width="1.5"/>
<line x1="898.8" y1="1039.0" x2="1253.5" y2="1039.0" stroke="#000" stroke-width="2"/>
<line x1="969" y1="1039.0" x2="969" y2="1035.0" stroke="#000" stroke-width="1.3"/>
<line x1="1040.1" y1="1039.0" x2="1040.1" y2="1035.0" stroke="#000" stroke-width="1.3"/>
<line x1="1110.9" y1="1039.0" x2="1110.9" y2="1035.0" stroke="#000" stroke-width="1.3"/>
<line x1="1182" y1="1039.0" x2="1182" y2="1035.0" stroke="#000" stroke-width="1.3"/>
<line x1="1252.8" y1="1039.0" x2="1252.8" y2="1035.0" stroke="#000" stroke-width="1.3"/>
<line x1="899.5" y1="854.4" x2="903.5" y2="854.4" stroke="#000" stroke-width="1.3"/>
<line x1="899.5" y1="894.5" x2="903.5" y2="894.5" stroke="#000" stroke-width="1.3"/>
<line x1="899.5" y1="934.4" x2="903.5" y2="934.4" stroke="#000" stroke-width="1.3"/>
<line x1="899.5" y1="974.7" x2="903.5" y2="974.7" stroke="#000" stroke-width="1.3"/>
<line x1="899.5" y1="1014.9" x2="903.5" y2="1014.9" stroke="#000" stroke-width="1.3"/>
<path d="M970.8,870.0 C971.3,869.2 973.0,864.9 974.0,865.0 C975.0,865.1 975.7,866.4 976.6,870.8 C977.5,875.1 978.6,886.0 979.5,891.1 C980.4,896.2 981.1,900.4 982.1,901.3 C983.1,902.1 984.3,897.8 985.3,896.2 C986.3,894.6 987.1,891.8 988.0,891.8 C988.9,891.8 989.3,897.9 990.4,896.2 C991.5,894.5 993.6,882.8 994.8,881.7 C995.9,880.6 996.4,887.3 997.3,889.6 C998.2,891.9 999.2,895.6 1000.2,895.5 C1001.2,895.4 1002.1,888.5 1003.1,888.9 C1004.1,889.2 1005.0,895.8 1006.4,897.6 C1007.8,899.4 1009.9,901.8 1011.2,899.8 C1012.5,897.8 1013.3,890.3 1014.4,885.3 C1015.5,880.3 1016.4,868.4 1017.6,870.0 C1018.8,871.6 1020.5,892.9 1021.7,894.7 C1022.9,896.5 1023.7,879.2 1024.9,880.9 C1026.1,882.6 1027.5,904.5 1028.9,904.9 C1030.3,905.3 1032.1,885.3 1033.3,883.1 C1034.5,880.9 1034.7,897.1 1035.9,891.8 C1037.1,886.5 1039.1,853.4 1040.5,851.1 C1041.9,848.8 1043.1,869.5 1044.2,878.0 C1045.3,886.5 1046.0,899.2 1047.1,902.4 C1048.2,905.5 1049.4,900.8 1050.7,896.9 C1052.0,893.0 1054.0,881.6 1055.1,878.7 C1056.2,875.9 1056.4,882.4 1057.3,879.8 C1058.2,877.1 1059.5,864.2 1060.6,862.8 C1061.7,861.4 1062.5,876.0 1063.8,871.5 C1065.1,867.0 1066.8,838.4 1068.2,835.9 C1069.7,833.4 1071.2,855.5 1072.5,856.2 C1073.8,856.9 1075.1,842.1 1076.1,840.2 C1077.1,838.3 1077.4,845.1 1078.3,844.6 C1079.2,844.1 1080.3,839.8 1081.2,837.3 C1082.1,834.8 1082.7,831.1 1083.4,829.4 C1084.1,827.7 1084.5,837.7 1085.6,827.2 C1086.6,816.7 1088.4,768.3 1089.7,766.2 C1091.0,764.1 1092.3,811.5 1093.6,814.8 C1094.8,818.1 1095.9,781.4 1097.2,785.8 C1098.5,790.2 1100.2,836.8 1101.6,841.0 C1103.0,845.2 1104.1,811.3 1105.6,811.2 C1107.0,811.1 1108.6,844.9 1110.3,840.2 C1112.0,835.5 1114.1,781.0 1115.8,782.9 C1117.5,784.8 1118.8,848.0 1120.2,851.9 C1121.7,855.8 1123.4,813.0 1124.5,806.1 C1125.6,799.2 1125.8,820.3 1127.0,810.5 C1128.2,800.7 1129.6,744.8 1131.4,747.3 C1133.2,749.8 1136.1,811.5 1137.9,825.7 C1139.7,839.9 1141.2,832.4 1142.3,832.5 C1143.4,832.6 1143.7,830.3 1144.5,826.3 C1145.3,822.3 1146.5,807.8 1147.4,808.4 C1148.3,809.0 1149.1,822.6 1150.0,830.2 C1150.9,837.8 1151.9,852.4 1152.8,853.9 C1153.7,855.4 1154.7,843.0 1155.4,839.1 C1156.2,835.2 1156.7,830.4 1157.3,830.8 C1157.9,831.2 1158.6,838.9 1159.2,841.7 C1159.8,844.5 1160.3,849.4 1161.1,847.5 C1161.8,845.6 1162.8,838.1 1163.7,830.2 C1164.6,822.3 1165.6,801.2 1166.6,800.1 C1167.6,799.0 1168.7,813.8 1169.7,823.8 C1170.7,833.8 1171.6,859.4 1172.7,860.3 C1173.8,861.1 1175.4,830.3 1176.5,828.9 C1177.6,827.5 1178.2,842.7 1179.1,851.9 C1180.0,861.1 1180.8,882.9 1182.0,884.0 C1183.2,885.1 1185.2,860.9 1186.4,858.3 C1187.6,855.7 1188.5,866.5 1189.3,868.6 C1190.1,870.8 1190.3,871.4 1191.2,871.2 C1192.1,871.0 1193.2,867.2 1194.4,867.3 C1195.6,867.4 1197.1,870.0 1198.3,871.8 C1199.5,873.6 1200.5,879.4 1201.5,878.2 C1202.5,877.0 1203.0,870.8 1204.0,864.8 C1205.0,858.8 1206.2,845.5 1207.2,842.3 C1208.2,839.1 1209.0,843.7 1209.8,845.5 C1210.6,847.3 1211.2,844.1 1212.3,853.2 C1213.4,862.3 1215.1,900.9 1216.6,900.0 C1218.0,899.1 1219.6,849.5 1221.0,848.1 C1222.4,846.7 1223.5,893.4 1225.1,891.6 C1226.6,889.8 1228.8,840.6 1230.3,837.2 C1231.8,833.8 1232.8,858.6 1234.1,871.2 C1235.4,883.8 1236.6,909.7 1238.0,912.8 C1239.4,915.9 1241.5,892.2 1242.7,889.7 C1243.9,887.2 1244.1,895.3 1245.0,898.0 C1245.9,900.7 1247.0,908.9 1248.2,905.7 C1249.4,902.5 1250.8,886.3 1252.0,878.8 C1253.2,871.3 1254.0,860.9 1255.2,860.9 C1256.4,860.9 1257.9,877.4 1259.1,878.8 C1260.3,880.2 1261.3,871.7 1262.3,869.2 C1263.2,866.8 1263.9,866.8 1264.8,864.1 C1265.7,861.4 1266.8,851.6 1267.8,853.0 C1268.8,854.4 1269.6,864.6 1270.6,872.4 C1271.6,880.2 1272.7,899.4 1273.8,900.0 C1274.9,900.6 1276.2,884.6 1277.3,876.3 C1278.4,868.0 1279.6,851.1 1280.6,850.0 C1281.6,848.9 1282.5,864.7 1283.4,869.9 C1284.3,875.1 1285.2,881.0 1286.0,881.4 C1286.8,881.8 1287.5,873.9 1288.5,872.4 C1289.5,870.9 1290.4,877.6 1291.7,872.4 C1293.0,867.2 1294.6,837.4 1296.2,841.1 C1297.8,844.8 1300.1,888.1 1301.6,894.8 C1303.1,901.5 1304.0,881.4 1305.2,881.4 C1306.4,881.4 1307.8,896.1 1309.0,894.8 C1310.2,893.5 1311.3,880.2 1312.6,873.7 C1313.9,867.2 1316.0,858.8 1316.7,855.8" stroke="#5b6770" stroke-width="2.9" fill="none" stroke-linejoin="round" stroke-linecap="round"/>
<line x1="972.4" y1="729.2" x2="972.4" y2="915.2" stroke="#000" stroke-width="1.5"/>
<line x1="971.6999999999999" y1="915.2" x2="1326.9" y2="915.2" stroke="#000" stroke-width="2"/>
<line x1="1042.3" y1="915.2" x2="1042.3" y2="911.2" stroke="#000" stroke-width="1.3"/>
<line x1="1113.3" y1="915.2" x2="1113.3" y2="911.2" stroke="#000" stroke-width="1.3"/>
<line x1="1184.1" y1="915.2" x2="1184.1" y2="911.2" stroke="#000" stroke-width="1.3"/>
<line x1="1254.8" y1="915.2" x2="1254.8" y2="911.2" stroke="#000" stroke-width="1.3"/>
<line x1="1326.2" y1="915.2" x2="1326.2" y2="911.2" stroke="#000" stroke-width="1.3"/>
<line x1="972.4" y1="729.2" x2="976.4" y2="729.2" stroke="#000" stroke-width="1.3"/>
<line x1="972.4" y1="769.4" x2="976.4" y2="769.4" stroke="#000" stroke-width="1.3"/>
<line x1="972.4" y1="809.3" x2="976.4" y2="809.3" stroke="#000" stroke-width="1.3"/>
<line x1="972.4" y1="849.5" x2="976.4" y2="849.5" stroke="#000" stroke-width="1.3"/>
<line x1="972.4" y1="889.9" x2="976.4" y2="889.9" stroke="#000" stroke-width="1.3"/>
<path d="M1071.7,708.6 C1072.0,709.1 1072.6,708.3 1073.2,711.6 C1073.8,714.9 1074.5,727.8 1075.3,728.6 C1076.0,729.4 1077.0,719.8 1077.7,716.4 C1078.5,713.0 1079.1,708.0 1079.8,708.0 C1080.5,708.0 1081.3,712.3 1082.0,716.4 C1082.7,720.5 1083.2,730.2 1083.8,732.8 C1084.4,735.4 1084.8,733.3 1085.4,732.2 C1086.0,731.1 1086.7,726.2 1087.4,726.2 C1088.2,726.2 1089.1,733.2 1089.9,732.2 C1090.7,731.2 1091.6,722.9 1092.3,720.1 C1093.0,717.3 1093.4,713.5 1094.1,715.2 C1094.8,716.9 1095.7,728.2 1096.5,730.4 C1097.3,732.6 1098.2,728.7 1099.0,728.6 C1099.8,728.5 1100.6,731.3 1101.4,729.8 C1102.2,728.3 1102.9,721.4 1103.6,719.5 C1104.3,717.6 1104.9,718.7 1105.6,718.3 C1106.3,717.9 1107.0,716.2 1107.7,717.1 C1108.4,718.0 1108.9,720.5 1109.9,723.7 C1110.9,726.9 1112.4,737.5 1113.5,736.5 C1114.6,735.5 1115.6,721.9 1116.6,717.7 C1117.6,713.6 1118.3,709.6 1119.3,711.6 C1120.3,713.6 1121.8,728.8 1122.6,729.8 C1123.4,730.8 1123.7,719.7 1124.4,717.7 C1125.2,715.7 1126.3,717.2 1127.1,717.7 C1127.9,718.2 1128.5,720.1 1129.3,720.7 C1130.1,721.3 1131.0,719.6 1131.7,721.3 C1132.4,723.0 1132.7,728.3 1133.5,731.0 C1134.3,733.7 1135.8,737.3 1136.6,737.7 C1137.4,738.1 1137.5,738.8 1138.4,733.4 C1139.3,728.0 1141.0,708.5 1142.0,705.5 C1143.0,702.5 1143.4,711.1 1144.5,715.2 C1145.6,719.4 1147.5,729.0 1148.7,730.4 C1149.9,731.8 1150.7,728.6 1151.7,723.7 C1152.7,718.9 1153.6,701.8 1154.5,701.3 C1155.4,700.8 1156.4,718.8 1157.2,720.7 C1158.0,722.6 1158.8,717.3 1159.6,712.8 C1160.4,708.2 1161.2,693.2 1162.0,693.4 C1162.8,693.6 1163.5,716.2 1164.5,714.0 C1165.5,711.8 1167.1,685.0 1168.1,680.1 C1169.1,675.2 1169.6,681.1 1170.3,684.9 C1171.0,688.7 1171.7,702.0 1172.4,703.1 C1173.2,704.2 1174.1,693.0 1174.8,691.6 C1175.5,690.2 1175.8,700.0 1176.4,694.6 C1177.0,689.2 1177.6,666.3 1178.4,659.4 C1179.2,652.5 1180.3,649.8 1181.2,653.4 C1182.1,657.0 1183.1,679.7 1183.9,681.3 C1184.8,682.9 1185.5,667.8 1186.3,663.1 C1187.1,658.5 1187.8,661.2 1188.7,653.4 C1189.6,645.6 1190.6,618.4 1191.5,616.4 C1192.4,614.4 1193.4,630.5 1194.2,641.2 C1195.0,651.9 1195.9,678.0 1196.6,680.7 C1197.3,683.4 1197.6,658.0 1198.4,657.6 C1199.2,657.2 1200.7,676.2 1201.5,678.2 C1202.3,680.2 1202.3,675.2 1203.3,669.7 C1204.3,664.2 1206.4,645.4 1207.5,644.9 C1208.6,644.4 1209.2,659.4 1210.0,666.7 C1210.8,674.0 1211.4,692.0 1212.4,688.5 C1213.4,685.0 1214.7,644.8 1216.0,645.5 C1217.3,646.2 1219.1,693.0 1220.3,692.8 C1221.5,692.6 1222.4,652.6 1223.3,644.3 C1224.2,636.0 1225.0,641.4 1225.7,643.1 C1226.4,644.8 1226.8,654.0 1227.5,654.6 C1228.2,655.2 1229.1,654.2 1230.0,646.7 C1230.9,639.2 1232.0,614.1 1232.8,609.7 C1233.6,605.4 1233.9,610.3 1234.8,620.6 C1235.7,630.9 1236.9,662.1 1237.9,671.6 C1238.9,681.1 1240.1,678.9 1240.9,677.6 C1241.7,676.3 1241.7,661.8 1242.5,663.7 C1243.3,665.6 1244.7,686.5 1245.6,689.2 C1246.5,691.9 1247.3,682.8 1248.1,679.9 C1248.9,677.0 1249.8,668.8 1250.6,671.8 C1251.4,674.8 1252.3,697.9 1253.1,698.0 C1253.9,698.1 1254.9,678.8 1255.6,672.4 C1256.3,666.0 1256.7,657.0 1257.5,659.9 C1258.3,662.8 1259.7,685.5 1260.6,689.9 C1261.5,694.3 1262.3,686.1 1263.1,686.1 C1263.9,686.1 1264.8,691.0 1265.6,689.9 C1266.4,688.8 1267.2,684.3 1268.0,679.3 C1268.8,674.3 1269.5,659.4 1270.5,659.9 C1271.5,660.4 1272.9,678.9 1273.7,682.4 C1274.5,685.9 1274.8,684.1 1275.5,681.1 C1276.2,678.1 1277.2,662.4 1278.0,664.3 C1278.8,666.2 1279.8,685.5 1280.5,692.4 C1281.2,699.2 1281.8,704.9 1282.4,705.4 C1283.0,705.9 1283.6,697.9 1284.3,695.5 C1285.0,693.1 1285.8,690.4 1286.4,691.1 C1287.0,691.8 1287.4,699.1 1288.0,699.8 C1288.6,700.5 1289.0,693.4 1289.9,695.5 C1290.8,697.6 1292.5,710.2 1293.6,712.3 C1294.7,714.4 1295.8,709.8 1296.7,707.9 C1297.6,706.0 1298.1,700.4 1298.8,701.1 C1299.5,701.8 1300.4,712.6 1301.1,712.3 C1301.8,712.0 1302.1,702.9 1303.0,699.2 C1303.9,695.5 1305.8,687.5 1306.7,689.9 C1307.6,692.3 1307.9,709.9 1308.6,713.5 C1309.3,717.1 1310.3,714.7 1311.1,711.7 C1311.9,708.7 1312.5,693.4 1313.5,695.5 C1314.5,697.6 1315.9,724.2 1317.3,724.1 C1318.7,724.0 1320.2,694.5 1321.7,694.8 C1323.2,695.1 1324.7,727.2 1326.0,726.0 C1327.3,724.8 1328.8,695.1 1329.8,687.4 C1330.8,679.7 1330.9,674.1 1332.0,679.9 C1333.1,685.7 1335.1,717.7 1336.6,722.3 C1338.0,726.9 1339.3,706.8 1340.7,707.3 C1342.1,707.8 1343.7,723.0 1344.7,725.4 C1345.7,727.8 1345.3,720.9 1346.6,721.7 C1347.8,722.5 1350.8,734.2 1352.2,730.4 C1353.6,726.5 1353.9,704.2 1354.7,698.6 C1355.5,693.0 1356.3,693.4 1357.2,696.7 C1358.1,700.0 1359.1,715.7 1359.9,718.5 C1360.7,721.3 1361.4,712.8 1362.2,713.5 C1363.0,714.2 1364.1,725.0 1364.9,722.9 C1365.7,720.8 1366.4,706.6 1367.2,701.1 C1368.0,695.6 1368.9,687.4 1369.9,689.9 C1370.9,692.4 1372.2,711.9 1373.1,716.0 C1374.0,720.1 1374.2,718.2 1375.3,714.8 C1376.3,711.4 1378.3,696.2 1379.4,695.8 C1380.5,695.4 1381.1,708.5 1382.1,712.3 C1383.1,716.1 1384.0,720.0 1385.2,718.5 C1386.4,717.0 1388.1,705.3 1389.0,703.0 C1389.9,700.7 1390.0,702.2 1390.8,704.8 C1391.6,707.4 1392.7,721.7 1394.0,718.5 C1395.3,715.3 1397.2,685.0 1398.6,685.5 C1400.0,686.0 1401.0,721.9 1402.3,721.7 C1403.6,721.5 1405.0,684.4 1406.4,684.3 C1407.8,684.2 1409.8,715.1 1410.8,721.0 C1411.8,726.9 1411.6,722.7 1412.6,719.8 C1413.6,716.9 1416.3,706.3 1417.0,703.6" stroke="#6cc473" stroke-width="2.9" fill="none" stroke-linejoin="round" stroke-linecap="round"/>
<line x1="1069.5" y1="558.4" x2="1069.5" y2="744.1" stroke="#000" stroke-width="1.5"/>
<line x1="1068.8" y1="744.1" x2="1422.3" y2="744.1" stroke="#000" stroke-width="2"/>
<line x1="1138.3" y1="744.1" x2="1138.3" y2="740.1" stroke="#000" stroke-width="1.3"/>
<line x1="1209.3" y1="744.1" x2="1209.3" y2="740.1" stroke="#000" stroke-width="1.3"/>
<line x1="1280.2" y1="744.1" x2="1280.2" y2="740.1" stroke="#000" stroke-width="1.3"/>
<line x1="1351.3" y1="744.1" x2="1351.3" y2="740.1" stroke="#000" stroke-width="1.3"/>
<line x1="1421.6" y1="744.1" x2="1421.6" y2="740.1" stroke="#000" stroke-width="1.3"/>
<line x1="1069.5" y1="558.4" x2="1073.5" y2="558.4" stroke="#000" stroke-width="1.3"/>
<line x1="1069.5" y1="599.4" x2="1073.5" y2="599.4" stroke="#000" stroke-width="1.3"/>
<line x1="1069.5" y1="638.2" x2="1073.5" y2="638.2" stroke="#000" stroke-width="1.3"/>
<line x1="1069.5" y1="678.2" x2="1073.5" y2="678.2" stroke="#000" stroke-width="1.3"/>
<line x1="1069.5" y1="718.2" x2="1073.5" y2="718.2" stroke="#000" stroke-width="1.3"/>
<rect x="847.1" y="1020.7" width="3.4" height="3.9" fill="#000"/>
<text x="816.5" y="1049.8" font-family="Liberation Sans, sans-serif" font-size="25" text-anchor="end">60</text>
<text x="816.5" y="1087.5" font-family="Liberation Sans, sans-serif" font-size="25" text-anchor="end">40</text>
<text x="816.5" y="1125" font-family="Liberation Sans, sans-serif" font-size="25" text-anchor="end">20</text>
<text x="816.5" y="1162.3" font-family="Liberation Sans, sans-serif" font-size="25" text-anchor="end">0</text>
<text x="890.7" y="864.6" font-family="Liberation Sans, sans-serif" font-size="25" text-anchor="end">200</text>
<text x="890.7" y="902.4" font-family="Liberation Sans, sans-serif" font-size="25" text-anchor="end">150</text>
<text x="890.7" y="943.2" font-family="Liberation Sans, sans-serif" font-size="25" text-anchor="end">100</text>
<text x="890.7" y="983.5" font-family="Liberation Sans, sans-serif" font-size="25" text-anchor="end">50</text>
<text x="890.7" y="1023.8" font-family="Liberation Sans, sans-serif" font-size="25" text-anchor="end">0</text>
<text x="896.5" y="1196.3" font-family="Liberation Sans, sans-serif" font-size="25" text-anchor="middle">5</text>
<text x="971.3" y="1194.5" font-family="Liberation Sans, sans-serif" font-size="25" text-anchor="middle">10</text>
<text x="1041.2" y="1194.1" font-family="Liberation Sans, sans-serif" font-size="25" text-anchor="middle">15</text>
<text x="1111.8" y="1194.5" font-family="Liberation Sans, sans-serif" font-size="25" text-anchor="middle">20</text>
<text x="1180" y="1193.7" font-family="Liberation Sans, sans-serif" font-size="25" text-anchor="middle">25</text>
<text x="958" y="1233" font-family="Liberation Sans, sans-serif" font-size="25">Time (s)</text>
<text transform="translate(766.5,1174.9) rotate(-90)" font-family="Liberation Sans, sans-serif" font-size="25">ΔF Ca<tspan font-size="13" dy="-12.5">2+</tspan><tspan dy="12.5"> (a.u.)</tspan></text>
<text transform="translate(831.3,1025.7) rotate(-90)" font-family="Liberation Sans, sans-serif" font-size="25">ΔRBC velocity (%)</text>
<text transform="translate(946.5,941.2) rotate(-90)" font-family="Liberation Sans, sans-serif" font-size="25">ΔPD/PD single voxel (%)</text>
<text transform="translate(1045.9,762.2) rotate(-90)" font-family="Liberation Sans, sans-serif" font-size="25">ΔPD/PD six voxels (%)</text>
<text x="-1.5" y="31" font-family="Liberation Sans, sans-serif" font-size="42" font-weight="bold">a</text>
<text x="866.3" y="30.7" font-family="Liberation Sans, sans-serif" font-size="41" font-weight="bold">b</text>
<text x="-1.3" y="519.6" font-family="Liberation Sans, sans-serif" font-size="42.5" font-weight="bold">c</text>
<text x="742.1" y="519" font-family="Liberation Sans, sans-serif" font-size="41" font-weight="bold">d</text>
</svg>
</body></html>
